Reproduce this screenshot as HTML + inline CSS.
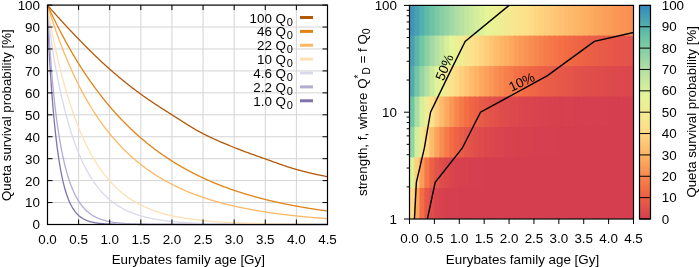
<!DOCTYPE html><html><head><meta charset="utf-8"><style>html,body{margin:0;padding:0;background:#fff;overflow:hidden}svg{display:block;will-change:transform}text{font-family:"Liberation Sans", sans-serif;font-size:13.4px;fill:#000}</style></head><body>
<svg width="699" height="267" viewBox="0 0 699 267">
<rect width="699" height="267" fill="#fff"/>
<path d="M78.61 5.10V224.50M109.72 5.10V224.50M140.83 5.10V224.50M171.94 5.10V224.50M203.06 5.10V224.50M234.17 5.10V224.50M265.28 5.10V224.50M296.39 5.10V224.50M47.50 202.56H327.50M47.50 180.62H327.50M47.50 158.68H327.50M47.50 136.74H327.50M47.50 114.80H327.50M47.50 92.86H327.50M47.50 70.92H327.50M47.50 48.98H327.50M47.50 27.04H327.50" stroke="#d4d4d4" stroke-width="1" fill="none"/>
<polyline points="47.50,5.10 47.66,11.04 47.81,16.47 47.97,21.46 48.12,26.08 48.28,30.38 48.43,34.41 48.59,38.20 48.74,41.79 48.90,45.21 49.06,48.47 49.21,51.60 49.37,54.61 49.52,57.52 49.68,60.34 49.83,63.07 49.99,65.72 50.14,68.31 50.30,70.83 50.46,73.29 50.61,75.70 50.77,78.06 50.92,80.37 51.08,82.63 51.23,84.86 51.39,87.04 51.54,89.18 51.70,91.29 51.86,93.35 52.01,95.39 52.17,97.39 52.32,99.35 52.48,101.29 52.63,103.19 52.79,105.06 52.94,106.91 53.10,108.72 53.26,110.50 53.41,112.26 53.57,113.99 53.72,115.69 53.88,117.37 54.03,119.02 54.19,120.64 54.34,122.24 54.50,123.81 54.66,125.36 54.81,126.89 54.97,128.39 55.12,129.87 55.28,131.32 55.43,132.76 55.59,134.17 55.74,135.56 55.90,136.93 56.06,138.27 56.21,139.60 56.37,140.91 56.52,142.19 56.68,143.46 56.83,144.70 56.99,145.93 57.14,147.14 57.30,148.33 57.46,149.50 57.61,150.65 57.77,151.79 57.92,152.91 58.08,154.01 58.23,155.09 58.39,156.16 58.54,157.21 58.70,158.25 58.86,159.27 59.01,160.27 59.17,161.26 59.32,162.23 59.48,163.19 59.63,164.13 59.79,165.06 59.94,165.97 60.26,167.76 60.57,169.49 60.88,171.17 61.19,172.80 61.50,174.38 61.81,175.91 62.12,177.39 62.43,178.83 62.74,180.22 63.06,181.57 63.37,182.88 63.68,184.15 63.99,185.39 64.30,186.58 64.61,187.74 64.92,188.86 65.23,189.95 65.54,191.00 65.86,192.03 66.17,193.02 66.48,193.98 66.79,194.91 67.10,195.81 67.41,196.69 67.72,197.54 68.03,198.36 68.34,199.16 68.66,199.93 68.97,200.68 69.28,201.41 69.59,202.11 69.90,202.80 70.21,203.46 70.52,204.10 70.83,204.72 71.14,205.33 71.46,205.91 71.77,206.48 72.08,207.03 72.39,207.56 72.70,208.08 73.01,208.58 73.32,209.07 73.63,209.54 73.94,210.00 74.26,210.44 74.57,210.87 74.88,211.28 75.19,211.69 75.50,212.08 75.81,212.46 76.12,212.82 76.43,213.18 76.74,213.53 77.06,213.86 77.37,214.19 77.68,214.50 77.99,214.81 78.30,215.10 78.61,215.39 78.92,215.67 79.23,215.94 79.54,216.20 79.86,216.45 80.17,216.70 80.48,216.94 80.79,217.17 81.10,217.39 81.41,217.61 81.72,217.82 82.03,218.02 82.34,218.22 82.66,218.41 82.97,218.60 83.28,218.78 83.59,218.95 83.90,219.12 84.21,219.29 84.52,219.44 84.83,219.60 85.14,219.75 85.46,219.89 85.77,220.03 86.08,220.17 86.39,220.30 86.70,220.43 87.01,220.55 87.32,220.68 87.63,220.79 87.94,220.91 88.26,221.01 88.57,221.12 88.88,221.22 89.19,221.32 89.50,221.42 89.81,221.52 90.12,221.61 90.43,221.69 90.74,221.78 91.06,221.86 91.37,221.94 91.68,222.02 91.99,222.10 92.30,222.17 92.61,222.24 92.92,222.31 93.23,222.38 93.54,222.44 93.86,222.51 94.17,222.57 94.48,222.63 94.79,222.68 95.10,222.74 95.41,222.79 95.72,222.84 96.03,222.89 96.34,222.94 96.66,222.99 96.97,223.04 97.28,223.08 97.59,223.12 97.90,223.17 98.21,223.21 98.52,223.25 98.83,223.29 99.14,223.32 99.46,223.36 99.77,223.39 100.08,223.43 100.39,223.46 100.70,223.49 101.01,223.52 101.32,223.55 101.63,223.58 101.94,223.61 102.26,223.64 102.57,223.66 102.88,223.69 103.19,223.71 103.50,223.74 103.81,223.76 104.12,223.78 104.43,223.80 104.74,223.83 105.06,223.85 105.37,223.87 105.68,223.89 105.99,223.90 106.30,223.92 106.61,223.94 106.92,223.96 107.23,223.97 107.54,223.99 107.86,224.01 108.17,224.02 108.48,224.04 108.79,224.05 109.10,224.06 109.41,224.08 109.72,224.09 110.34,224.11 110.97,224.14 111.59,224.16 112.21,224.18 112.83,224.20 113.46,224.22 114.08,224.23 114.70,224.25 115.32,224.27 115.94,224.28 116.57,224.29 117.19,224.30 117.81,224.32 118.43,224.33 119.06,224.34 119.68,224.35 120.30,224.36 120.92,224.37 121.54,224.37 122.17,224.38 122.79,224.39 123.41,224.40 124.03,224.40 124.66,224.41 125.28,224.41 125.90,224.42 126.52,224.42 127.14,224.43 127.77,224.43 128.39,224.44 129.01,224.44 129.63,224.44 130.26,224.45 130.88,224.45 131.50,224.45 132.12,224.46 132.74,224.46 133.37,224.46 133.99,224.46 134.61,224.47 135.23,224.47 135.86,224.47 136.48,224.47 137.10,224.47 137.72,224.47 138.34,224.48 138.97,224.48 139.59,224.48 140.21,224.48 140.83,224.48 141.46,224.48 142.08,224.48 142.70,224.48 143.32,224.49 143.94,224.49 144.57,224.49 145.19,224.49 145.81,224.49 146.43,224.49 147.06,224.49 147.68,224.49 148.30,224.49 148.92,224.49 149.54,224.49 150.17,224.49 150.79,224.49 151.41,224.49 152.03,224.49 152.66,224.49 153.28,224.49 153.90,224.49 154.52,224.50 155.14,224.50 155.77,224.50 156.39,224.50 157.01,224.50 157.63,224.50 158.26,224.50 158.88,224.50 159.50,224.50 160.12,224.50 160.74,224.50 161.37,224.50 161.99,224.50 162.61,224.50 163.23,224.50 163.86,224.50 164.48,224.50 165.10,224.50 165.72,224.50 166.34,224.50 166.97,224.50 167.59,224.50 168.21,224.50 168.83,224.50 169.46,224.50 170.08,224.50 170.70,224.50 171.32,224.50 171.94,224.50 172.57,224.50 173.19,224.50 173.81,224.50 174.43,224.50 175.06,224.50 175.68,224.50 176.30,224.50 176.92,224.50 177.54,224.50 178.17,224.50 178.79,224.50 179.41,224.50 180.03,224.50 180.66,224.50 181.28,224.50 181.90,224.50 182.52,224.50 183.14,224.50 183.77,224.50 184.39,224.50 185.01,224.50 185.63,224.50 186.26,224.50 186.88,224.50 187.50,224.50 188.12,224.50 188.74,224.50 189.37,224.50 189.99,224.50 190.61,224.50 191.23,224.50 191.86,224.50 192.48,224.50 193.10,224.50 193.72,224.50 194.34,224.50 194.97,224.50 195.59,224.50 196.21,224.50 196.83,224.50 197.46,224.50 198.08,224.50 198.70,224.50 199.32,224.50 199.94,224.50 200.57,224.50 201.19,224.50 201.81,224.50 202.43,224.50 203.06,224.50 203.68,224.50 204.30,224.50 204.92,224.50 205.54,224.50 206.17,224.50 206.79,224.50 207.41,224.50 208.03,224.50 208.66,224.50 209.28,224.50 209.90,224.50 210.52,224.50 211.14,224.50 211.77,224.50 212.39,224.50 213.01,224.50 213.63,224.50 214.26,224.50 214.88,224.50 215.50,224.50 216.12,224.50 216.74,224.50 217.37,224.50 217.99,224.50 218.61,224.50 219.23,224.50 219.86,224.50 220.48,224.50 221.10,224.50 221.72,224.50 222.34,224.50 222.97,224.50 223.59,224.50 224.21,224.50 224.83,224.50 225.46,224.50 226.08,224.50 226.70,224.50 227.32,224.50 227.94,224.50 228.57,224.50 229.19,224.50 229.81,224.50 230.43,224.50 231.06,224.50 231.68,224.50 232.30,224.50 232.92,224.50 233.54,224.50 234.17,224.50 234.79,224.50 235.41,224.50 236.03,224.50 236.66,224.50 237.28,224.50 237.90,224.50 238.52,224.50 239.14,224.50 239.77,224.50 240.39,224.50 241.01,224.50 241.63,224.50 242.26,224.50 242.88,224.50 243.50,224.50 244.12,224.50 244.74,224.50 245.37,224.50 245.99,224.50 246.61,224.50 247.23,224.50 247.86,224.50 248.48,224.50 249.10,224.50 249.72,224.50 250.34,224.50 250.97,224.50 251.59,224.50 252.21,224.50 252.83,224.50 253.46,224.50 254.08,224.50 254.70,224.50 255.32,224.50 255.94,224.50 256.57,224.50 257.19,224.50 257.81,224.50 258.43,224.50 259.06,224.50 259.68,224.50 260.30,224.50 260.92,224.50 261.54,224.50 262.17,224.50 262.79,224.50 263.41,224.50 264.03,224.50 264.66,224.50 265.28,224.50 265.90,224.50 266.52,224.50 267.14,224.50 267.77,224.50 268.39,224.50 269.01,224.50 269.63,224.50 270.26,224.50 270.88,224.50 271.50,224.50 272.12,224.50 272.74,224.50 273.37,224.50 273.99,224.50 274.61,224.50 275.23,224.50 275.86,224.50 276.48,224.50 277.10,224.50 277.72,224.50 278.34,224.50 278.97,224.50 279.59,224.50 280.21,224.50 280.83,224.50 281.46,224.50 282.08,224.50 282.70,224.50 283.32,224.50 283.94,224.50 284.57,224.50 285.19,224.50 285.81,224.50 286.43,224.50 287.06,224.50 287.68,224.50 288.30,224.50 288.92,224.50 289.54,224.50 290.17,224.50 290.79,224.50 291.41,224.50 292.03,224.50 292.66,224.50 293.28,224.50 293.90,224.50 294.52,224.50 295.14,224.50 295.77,224.50 296.39,224.50 297.01,224.50 297.63,224.50 298.26,224.50 298.88,224.50 299.50,224.50 300.12,224.50 300.74,224.50 301.37,224.50 301.99,224.50 302.61,224.50 303.23,224.50 303.86,224.50 304.48,224.50 305.10,224.50 305.72,224.50 306.34,224.50 306.97,224.50 307.59,224.50 308.21,224.50 308.83,224.50 309.46,224.50 310.08,224.50 310.70,224.50 311.32,224.50 311.94,224.50 312.57,224.50 313.19,224.50 313.81,224.50 314.43,224.50 315.06,224.50 315.68,224.50 316.30,224.50 316.92,224.50 317.54,224.50 318.17,224.50 318.79,224.50 319.41,224.50 320.03,224.50 320.66,224.50 321.28,224.50 321.90,224.50 322.52,224.50 323.14,224.50 323.77,224.50 324.39,224.50 325.01,224.50 325.63,224.50 326.26,224.50 326.88,224.50 327.50,224.50" fill="none" stroke="#8073AC" stroke-width="1.3" stroke-linejoin="round"/>
<polyline points="47.50,5.10 47.66,8.39 47.81,11.59 47.97,14.72 48.12,17.78 48.28,20.76 48.43,23.68 48.59,26.52 48.74,29.31 48.90,32.03 49.06,34.69 49.21,37.29 49.37,39.84 49.52,42.34 49.68,44.78 49.83,47.17 49.99,49.51 50.14,51.81 50.30,54.06 50.46,56.26 50.61,58.43 50.77,60.55 50.92,62.63 51.08,64.67 51.23,66.68 51.39,68.65 51.54,70.58 51.70,72.48 51.86,74.35 52.01,76.18 52.17,77.98 52.32,79.76 52.48,81.50 52.63,83.21 52.79,84.90 52.94,86.56 53.10,88.19 53.26,89.79 53.41,91.38 53.57,92.93 53.72,94.46 53.88,95.97 54.03,97.46 54.19,98.92 54.34,100.37 54.50,101.79 54.66,103.19 54.81,104.57 54.97,105.93 55.12,107.27 55.28,108.59 55.43,109.90 55.59,111.19 55.74,112.46 55.90,113.71 56.06,114.94 56.21,116.16 56.37,117.36 56.52,118.55 56.68,119.72 56.83,120.88 56.99,122.02 57.14,123.15 57.30,124.26 57.46,125.36 57.61,126.44 57.77,127.51 57.92,128.57 58.08,129.61 58.23,130.64 58.39,131.66 58.54,132.67 58.70,133.66 58.86,134.64 59.01,135.61 59.17,136.57 59.32,137.52 59.48,138.46 59.63,139.38 59.79,140.30 59.94,141.20 60.26,142.97 60.57,144.71 60.88,146.40 61.19,148.06 61.50,149.68 61.81,151.26 62.12,152.81 62.43,154.32 62.74,155.80 63.06,157.25 63.37,158.66 63.68,160.05 63.99,161.40 64.30,162.72 64.61,164.02 64.92,165.29 65.23,166.53 65.54,167.74 65.86,168.93 66.17,170.09 66.48,171.23 66.79,172.34 67.10,173.43 67.41,174.50 67.72,175.54 68.03,176.56 68.34,177.56 68.66,178.54 68.97,179.50 69.28,180.44 69.59,181.36 69.90,182.26 70.21,183.14 70.52,184.00 70.83,184.84 71.14,185.67 71.46,186.47 71.77,187.27 72.08,188.04 72.39,188.80 72.70,189.54 73.01,190.27 73.32,190.98 73.63,191.68 73.94,192.36 74.26,193.03 74.57,193.69 74.88,194.33 75.19,194.95 75.50,195.57 75.81,196.17 76.12,196.76 76.43,197.34 76.74,197.90 77.06,198.45 77.37,199.00 77.68,199.53 77.99,200.04 78.30,200.55 78.61,201.05 78.92,201.54 79.23,202.02 79.54,202.48 79.86,202.94 80.17,203.39 80.48,203.83 80.79,204.26 81.10,204.68 81.41,205.09 81.72,205.49 82.03,205.89 82.34,206.28 82.66,206.65 82.97,207.03 83.28,207.39 83.59,207.74 83.90,208.09 84.21,208.43 84.52,208.77 84.83,209.09 85.14,209.41 85.46,209.73 85.77,210.03 86.08,210.34 86.39,210.63 86.70,210.92 87.01,211.20 87.32,211.48 87.63,211.75 87.94,212.01 88.26,212.27 88.57,212.53 88.88,212.77 89.19,213.02 89.50,213.26 89.81,213.49 90.12,213.72 90.43,213.94 90.74,214.16 91.06,214.38 91.37,214.59 91.68,214.79 91.99,215.00 92.30,215.19 92.61,215.39 92.92,215.58 93.23,215.76 93.54,215.94 93.86,216.12 94.17,216.30 94.48,216.47 94.79,216.63 95.10,216.80 95.41,216.96 95.72,217.11 96.03,217.27 96.34,217.42 96.66,217.56 96.97,217.71 97.28,217.85 97.59,217.99 97.90,218.12 98.21,218.26 98.52,218.39 98.83,218.51 99.14,218.64 99.46,218.76 99.77,218.88 100.08,218.99 100.39,219.11 100.70,219.22 101.01,219.33 101.32,219.44 101.63,219.54 101.94,219.65 102.26,219.75 102.57,219.85 102.88,219.94 103.19,220.04 103.50,220.13 103.81,220.22 104.12,220.31 104.43,220.40 104.74,220.48 105.06,220.57 105.37,220.65 105.68,220.73 105.99,220.81 106.30,220.88 106.61,220.96 106.92,221.03 107.23,221.10 107.54,221.17 107.86,221.24 108.17,221.31 108.48,221.38 108.79,221.44 109.10,221.51 109.41,221.57 109.72,221.63 110.34,221.75 110.97,221.86 111.59,221.97 112.21,222.07 112.83,222.17 113.46,222.27 114.08,222.36 114.70,222.45 115.32,222.53 115.94,222.61 116.57,222.69 117.19,222.77 117.81,222.84 118.43,222.91 119.06,222.97 119.68,223.03 120.30,223.09 120.92,223.15 121.54,223.21 122.17,223.26 122.79,223.31 123.41,223.36 124.03,223.41 124.66,223.45 125.28,223.50 125.90,223.54 126.52,223.58 127.14,223.61 127.77,223.65 128.39,223.69 129.01,223.72 129.63,223.75 130.26,223.78 130.88,223.81 131.50,223.84 132.12,223.87 132.74,223.89 133.37,223.92 133.99,223.94 134.61,223.96 135.23,223.99 135.86,224.01 136.48,224.03 137.10,224.05 137.72,224.07 138.34,224.08 138.97,224.10 139.59,224.12 140.21,224.13 140.83,224.15 141.46,224.16 142.08,224.18 142.70,224.19 143.32,224.20 143.94,224.22 144.57,224.23 145.19,224.24 145.81,224.25 146.43,224.26 147.06,224.27 147.68,224.28 148.30,224.29 148.92,224.30 149.54,224.30 150.17,224.31 150.79,224.32 151.41,224.33 152.03,224.33 152.66,224.34 153.28,224.35 153.90,224.35 154.52,224.36 155.14,224.37 155.77,224.37 156.39,224.38 157.01,224.38 157.63,224.39 158.26,224.39 158.88,224.40 159.50,224.40 160.12,224.40 160.74,224.41 161.37,224.41 161.99,224.42 162.61,224.42 163.23,224.42 163.86,224.43 164.48,224.43 165.10,224.43 165.72,224.43 166.34,224.44 166.97,224.44 167.59,224.44 168.21,224.44 168.83,224.45 169.46,224.45 170.08,224.45 170.70,224.45 171.32,224.46 171.94,224.46 172.57,224.46 173.19,224.46 173.81,224.46 174.43,224.46 175.06,224.47 175.68,224.47 176.30,224.47 176.92,224.47 177.54,224.47 178.17,224.47 178.79,224.47 179.41,224.47 180.03,224.48 180.66,224.48 181.28,224.48 181.90,224.48 182.52,224.48 183.14,224.48 183.77,224.48 184.39,224.48 185.01,224.48 185.63,224.48 186.26,224.48 186.88,224.48 187.50,224.48 188.12,224.49 188.74,224.49 189.37,224.49 189.99,224.49 190.61,224.49 191.23,224.49 191.86,224.49 192.48,224.49 193.10,224.49 193.72,224.49 194.34,224.49 194.97,224.49 195.59,224.49 196.21,224.49 196.83,224.49 197.46,224.49 198.08,224.49 198.70,224.49 199.32,224.49 199.94,224.49 200.57,224.49 201.19,224.49 201.81,224.49 202.43,224.49 203.06,224.49 203.68,224.49 204.30,224.50 204.92,224.50 205.54,224.50 206.17,224.50 206.79,224.50 207.41,224.50 208.03,224.50 208.66,224.50 209.28,224.50 209.90,224.50 210.52,224.50 211.14,224.50 211.77,224.50 212.39,224.50 213.01,224.50 213.63,224.50 214.26,224.50 214.88,224.50 215.50,224.50 216.12,224.50 216.74,224.50 217.37,224.50 217.99,224.50 218.61,224.50 219.23,224.50 219.86,224.50 220.48,224.50 221.10,224.50 221.72,224.50 222.34,224.50 222.97,224.50 223.59,224.50 224.21,224.50 224.83,224.50 225.46,224.50 226.08,224.50 226.70,224.50 227.32,224.50 227.94,224.50 228.57,224.50 229.19,224.50 229.81,224.50 230.43,224.50 231.06,224.50 231.68,224.50 232.30,224.50 232.92,224.50 233.54,224.50 234.17,224.50 234.79,224.50 235.41,224.50 236.03,224.50 236.66,224.50 237.28,224.50 237.90,224.50 238.52,224.50 239.14,224.50 239.77,224.50 240.39,224.50 241.01,224.50 241.63,224.50 242.26,224.50 242.88,224.50 243.50,224.50 244.12,224.50 244.74,224.50 245.37,224.50 245.99,224.50 246.61,224.50 247.23,224.50 247.86,224.50 248.48,224.50 249.10,224.50 249.72,224.50 250.34,224.50 250.97,224.50 251.59,224.50 252.21,224.50 252.83,224.50 253.46,224.50 254.08,224.50 254.70,224.50 255.32,224.50 255.94,224.50 256.57,224.50 257.19,224.50 257.81,224.50 258.43,224.50 259.06,224.50 259.68,224.50 260.30,224.50 260.92,224.50 261.54,224.50 262.17,224.50 262.79,224.50 263.41,224.50 264.03,224.50 264.66,224.50 265.28,224.50 265.90,224.50 266.52,224.50 267.14,224.50 267.77,224.50 268.39,224.50 269.01,224.50 269.63,224.50 270.26,224.50 270.88,224.50 271.50,224.50 272.12,224.50 272.74,224.50 273.37,224.50 273.99,224.50 274.61,224.50 275.23,224.50 275.86,224.50 276.48,224.50 277.10,224.50 277.72,224.50 278.34,224.50 278.97,224.50 279.59,224.50 280.21,224.50 280.83,224.50 281.46,224.50 282.08,224.50 282.70,224.50 283.32,224.50 283.94,224.50 284.57,224.50 285.19,224.50 285.81,224.50 286.43,224.50 287.06,224.50 287.68,224.50 288.30,224.50 288.92,224.50 289.54,224.50 290.17,224.50 290.79,224.50 291.41,224.50 292.03,224.50 292.66,224.50 293.28,224.50 293.90,224.50 294.52,224.50 295.14,224.50 295.77,224.50 296.39,224.50 297.01,224.50 297.63,224.50 298.26,224.50 298.88,224.50 299.50,224.50 300.12,224.50 300.74,224.50 301.37,224.50 301.99,224.50 302.61,224.50 303.23,224.50 303.86,224.50 304.48,224.50 305.10,224.50 305.72,224.50 306.34,224.50 306.97,224.50 307.59,224.50 308.21,224.50 308.83,224.50 309.46,224.50 310.08,224.50 310.70,224.50 311.32,224.50 311.94,224.50 312.57,224.50 313.19,224.50 313.81,224.50 314.43,224.50 315.06,224.50 315.68,224.50 316.30,224.50 316.92,224.50 317.54,224.50 318.17,224.50 318.79,224.50 319.41,224.50 320.03,224.50 320.66,224.50 321.28,224.50 321.90,224.50 322.52,224.50 323.14,224.50 323.77,224.50 324.39,224.50 325.01,224.50 325.63,224.50 326.26,224.50 326.88,224.50 327.50,224.50" fill="none" stroke="#B2ABD2" stroke-width="1.3" stroke-linejoin="round"/>
<polyline points="47.50,5.10 47.66,6.97 47.81,8.79 47.97,10.56 48.12,12.28 48.28,13.96 48.43,15.60 48.59,17.20 48.74,18.76 48.90,20.28 49.06,21.78 49.21,23.24 49.37,24.67 49.52,26.07 49.68,27.44 49.83,28.79 49.99,30.11 50.14,31.41 50.30,32.68 50.46,33.94 50.61,35.17 50.77,36.38 50.92,37.58 51.08,38.76 51.23,39.92 51.39,41.06 51.54,42.18 51.70,43.30 51.86,44.39 52.01,45.48 52.17,46.55 52.32,47.60 52.48,48.65 52.63,49.68 52.79,50.70 52.94,51.71 53.10,52.71 53.26,53.70 53.41,54.68 53.57,55.65 53.72,56.61 53.88,57.56 54.03,58.50 54.19,59.43 54.34,60.36 54.50,61.27 54.66,62.18 54.81,63.08 54.97,63.98 55.12,64.86 55.28,65.74 55.43,66.62 55.59,67.48 55.74,68.34 55.90,69.20 56.06,70.04 56.21,70.88 56.37,71.72 56.52,72.55 56.68,73.37 56.83,74.19 56.99,75.00 57.14,75.81 57.30,76.61 57.46,77.41 57.61,78.20 57.77,78.99 57.92,79.77 58.08,80.54 58.23,81.31 58.39,82.08 58.54,82.84 58.70,83.60 58.86,84.35 59.01,85.10 59.17,85.85 59.32,86.58 59.48,87.32 59.63,88.05 59.79,88.78 59.94,89.50 60.26,90.93 60.57,92.35 60.88,93.75 61.19,95.13 61.50,96.50 61.81,97.85 62.12,99.19 62.43,100.51 62.74,101.82 63.06,103.12 63.37,104.40 63.68,105.66 63.99,106.92 64.30,108.16 64.61,109.38 64.92,110.60 65.23,111.80 65.54,112.98 65.86,114.16 66.17,115.32 66.48,116.47 66.79,117.61 67.10,118.73 67.41,119.85 67.72,120.95 68.03,122.04 68.34,123.12 68.66,124.18 68.97,125.24 69.28,126.28 69.59,127.32 69.90,128.34 70.21,129.35 70.52,130.35 70.83,131.34 71.14,132.32 71.46,133.29 71.77,134.25 72.08,135.20 72.39,136.14 72.70,137.07 73.01,137.99 73.32,138.90 73.63,139.80 73.94,140.70 74.26,141.58 74.57,142.45 74.88,143.31 75.19,144.17 75.50,145.01 75.81,145.85 76.12,146.68 76.43,147.49 76.74,148.31 77.06,149.11 77.37,149.90 77.68,150.68 77.99,151.46 78.30,152.23 78.61,152.99 78.92,153.74 79.23,154.49 79.54,155.22 79.86,155.95 80.17,156.67 80.48,157.39 80.79,158.09 81.10,158.79 81.41,159.48 81.72,160.17 82.03,160.84 82.34,161.51 82.66,162.18 82.97,162.83 83.28,163.48 83.59,164.12 83.90,164.76 84.21,165.39 84.52,166.01 84.83,166.62 85.14,167.23 85.46,167.84 85.77,168.43 86.08,169.02 86.39,169.61 86.70,170.18 87.01,170.75 87.32,171.32 87.63,171.88 87.94,172.43 88.26,172.98 88.57,173.52 88.88,174.06 89.19,174.59 89.50,175.12 89.81,175.64 90.12,176.15 90.43,176.66 90.74,177.16 91.06,177.66 91.37,178.15 91.68,178.64 91.99,179.12 92.30,179.60 92.61,180.07 92.92,180.54 93.23,181.00 93.54,181.46 93.86,181.91 94.17,182.36 94.48,182.80 94.79,183.24 95.10,183.68 95.41,184.11 95.72,184.53 96.03,184.95 96.34,185.37 96.66,185.78 96.97,186.19 97.28,186.59 97.59,186.99 97.90,187.38 98.21,187.77 98.52,188.16 98.83,188.54 99.14,188.92 99.46,189.30 99.77,189.67 100.08,190.03 100.39,190.40 100.70,190.75 101.01,191.11 101.32,191.46 101.63,191.81 101.94,192.15 102.26,192.49 102.57,192.83 102.88,193.16 103.19,193.49 103.50,193.82 103.81,194.14 104.12,194.46 104.43,194.78 104.74,195.09 105.06,195.40 105.37,195.70 105.68,196.01 105.99,196.31 106.30,196.60 106.61,196.90 106.92,197.19 107.23,197.48 107.54,197.76 107.86,198.04 108.17,198.32 108.48,198.59 108.79,198.87 109.10,199.14 109.41,199.40 109.72,199.67 110.34,200.19 110.97,200.70 111.59,201.19 112.21,201.68 112.83,202.16 113.46,202.63 114.08,203.09 114.70,203.53 115.32,203.97 115.94,204.40 116.57,204.82 117.19,205.24 117.81,205.64 118.43,206.03 119.06,206.42 119.68,206.80 120.30,207.17 120.92,207.53 121.54,207.89 122.17,208.23 122.79,208.57 123.41,208.91 124.03,209.23 124.66,209.55 125.28,209.87 125.90,210.17 126.52,210.47 127.14,210.77 127.77,211.05 128.39,211.34 129.01,211.61 129.63,211.88 130.26,212.15 130.88,212.40 131.50,212.66 132.12,212.90 132.74,213.15 133.37,213.39 133.99,213.62 134.61,213.85 135.23,214.07 135.86,214.29 136.48,214.50 137.10,214.71 137.72,214.91 138.34,215.12 138.97,215.31 139.59,215.50 140.21,215.69 140.83,215.88 141.46,216.06 142.08,216.23 142.70,216.41 143.32,216.58 143.94,216.74 144.57,216.90 145.19,217.06 145.81,217.22 146.43,217.37 147.06,217.52 147.68,217.67 148.30,217.81 148.92,217.95 149.54,218.09 150.17,218.22 150.79,218.35 151.41,218.48 152.03,218.61 152.66,218.73 153.28,218.85 153.90,218.97 154.52,219.09 155.14,219.20 155.77,219.31 156.39,219.42 157.01,219.52 157.63,219.63 158.26,219.73 158.88,219.83 159.50,219.93 160.12,220.02 160.74,220.12 161.37,220.21 161.99,220.30 162.61,220.39 163.23,220.47 163.86,220.56 164.48,220.64 165.10,220.72 165.72,220.80 166.34,220.88 166.97,220.95 167.59,221.03 168.21,221.10 168.83,221.17 169.46,221.24 170.08,221.31 170.70,221.38 171.32,221.44 171.94,221.51 172.57,221.57 173.19,221.63 173.81,221.69 174.43,221.75 175.06,221.81 175.68,221.86 176.30,221.92 176.92,221.97 177.54,222.02 178.17,222.08 178.79,222.13 179.41,222.18 180.03,222.23 180.66,222.27 181.28,222.32 181.90,222.37 182.52,222.41 183.14,222.45 183.77,222.50 184.39,222.54 185.01,222.58 185.63,222.62 186.26,222.66 186.88,222.70 187.50,222.74 188.12,222.77 188.74,222.81 189.37,222.84 189.99,222.88 190.61,222.91 191.23,222.95 191.86,222.98 192.48,223.01 193.10,223.04 193.72,223.07 194.34,223.10 194.97,223.13 195.59,223.16 196.21,223.19 196.83,223.22 197.46,223.24 198.08,223.27 198.70,223.29 199.32,223.32 199.94,223.34 200.57,223.37 201.19,223.39 201.81,223.42 202.43,223.44 203.06,223.46 203.68,223.48 204.30,223.50 204.92,223.52 205.54,223.54 206.17,223.56 206.79,223.58 207.41,223.60 208.03,223.62 208.66,223.64 209.28,223.66 209.90,223.68 210.52,223.69 211.14,223.71 211.77,223.73 212.39,223.74 213.01,223.76 213.63,223.77 214.26,223.79 214.88,223.80 215.50,223.82 216.12,223.83 216.74,223.85 217.37,223.86 217.99,223.87 218.61,223.89 219.23,223.90 219.86,223.91 220.48,223.92 221.10,223.94 221.72,223.95 222.34,223.96 222.97,223.97 223.59,223.98 224.21,223.99 224.83,224.00 225.46,224.01 226.08,224.02 226.70,224.03 227.32,224.04 227.94,224.05 228.57,224.06 229.19,224.07 229.81,224.08 230.43,224.09 231.06,224.10 231.68,224.11 232.30,224.12 232.92,224.12 233.54,224.13 234.17,224.14 234.79,224.15 235.41,224.15 236.03,224.16 236.66,224.17 237.28,224.18 237.90,224.18 238.52,224.19 239.14,224.20 239.77,224.20 240.39,224.21 241.01,224.21 241.63,224.22 242.26,224.23 242.88,224.23 243.50,224.24 244.12,224.24 244.74,224.25 245.37,224.25 245.99,224.26 246.61,224.26 247.23,224.27 247.86,224.27 248.48,224.28 249.10,224.28 249.72,224.29 250.34,224.29 250.97,224.30 251.59,224.30 252.21,224.30 252.83,224.31 253.46,224.31 254.08,224.32 254.70,224.32 255.32,224.32 255.94,224.33 256.57,224.33 257.19,224.33 257.81,224.34 258.43,224.34 259.06,224.35 259.68,224.35 260.30,224.35 260.92,224.35 261.54,224.36 262.17,224.36 262.79,224.36 263.41,224.37 264.03,224.37 264.66,224.37 265.28,224.37 265.90,224.38 266.52,224.38 267.14,224.38 267.77,224.38 268.39,224.39 269.01,224.39 269.63,224.39 270.26,224.39 270.88,224.40 271.50,224.40 272.12,224.40 272.74,224.40 273.37,224.40 273.99,224.41 274.61,224.41 275.23,224.41 275.86,224.41 276.48,224.41 277.10,224.42 277.72,224.42 278.34,224.42 278.97,224.42 279.59,224.42 280.21,224.42 280.83,224.43 281.46,224.43 282.08,224.43 282.70,224.43 283.32,224.43 283.94,224.43 284.57,224.43 285.19,224.44 285.81,224.44 286.43,224.44 287.06,224.44 287.68,224.44 288.30,224.44 288.92,224.44 289.54,224.45 290.17,224.45 290.79,224.45 291.41,224.45 292.03,224.45 292.66,224.45 293.28,224.45 293.90,224.45 294.52,224.45 295.14,224.45 295.77,224.46 296.39,224.46 297.01,224.46 297.63,224.46 298.26,224.46 298.88,224.46 299.50,224.46 300.12,224.46 300.74,224.46 301.37,224.46 301.99,224.46 302.61,224.46 303.23,224.47 303.86,224.47 304.48,224.47 305.10,224.47 305.72,224.47 306.34,224.47 306.97,224.47 307.59,224.47 308.21,224.47 308.83,224.47 309.46,224.47 310.08,224.47 310.70,224.47 311.32,224.47 311.94,224.47 312.57,224.47 313.19,224.48 313.81,224.48 314.43,224.48 315.06,224.48 315.68,224.48 316.30,224.48 316.92,224.48 317.54,224.48 318.17,224.48 318.79,224.48 319.41,224.48 320.03,224.48 320.66,224.48 321.28,224.48 321.90,224.48 322.52,224.48 323.14,224.48 323.77,224.48 324.39,224.48 325.01,224.48 325.63,224.48 326.26,224.48 326.88,224.48 327.50,224.48" fill="none" stroke="#D8DAEB" stroke-width="1.3" stroke-linejoin="round"/>
<polyline points="47.50,5.10 47.66,7.31 47.81,8.99 47.97,10.34 48.12,11.49 48.28,12.53 48.43,13.48 48.59,14.39 48.74,15.27 48.90,16.14 49.06,16.98 49.21,17.82 49.37,18.65 49.52,19.48 49.68,20.30 49.83,21.12 49.99,21.93 50.14,22.75 50.30,23.55 50.46,24.36 50.61,25.16 50.77,25.95 50.92,26.75 51.08,27.54 51.23,28.33 51.39,29.11 51.54,29.89 51.70,30.67 51.86,31.45 52.01,32.22 52.17,32.99 52.32,33.75 52.48,34.52 52.63,35.28 52.79,36.03 52.94,36.79 53.10,37.54 53.26,38.28 53.41,39.03 53.57,39.77 53.72,40.51 53.88,41.25 54.03,41.98 54.19,42.71 54.34,43.44 54.50,44.16 54.66,44.88 54.81,45.60 54.97,46.31 55.12,47.03 55.28,47.74 55.43,48.44 55.59,49.15 55.74,49.85 55.90,50.55 56.06,51.24 56.21,51.94 56.37,52.63 56.52,53.31 56.68,54.00 56.83,54.68 56.99,55.36 57.14,56.04 57.30,56.71 57.46,57.38 57.61,58.05 57.77,58.71 57.92,59.38 58.08,60.04 58.23,60.70 58.39,61.35 58.54,62.00 58.70,62.65 58.86,63.30 59.01,63.94 59.17,64.59 59.32,65.23 59.48,65.86 59.63,66.50 59.79,67.13 59.94,67.76 60.26,69.01 60.57,70.25 60.88,71.48 61.19,72.70 61.50,73.92 61.81,75.12 62.12,76.31 62.43,77.49 62.74,78.67 63.06,79.83 63.37,80.99 63.68,82.13 63.99,83.27 64.30,84.40 64.61,85.51 64.92,86.62 65.23,87.72 65.54,88.82 65.86,89.90 66.17,90.97 66.48,92.04 66.79,93.10 67.10,94.15 67.41,95.19 67.72,96.22 68.03,97.24 68.34,98.26 68.66,99.27 68.97,100.27 69.28,101.26 69.59,102.24 69.90,103.22 70.21,104.18 70.52,105.15 70.83,106.10 71.14,107.04 71.46,107.98 71.77,108.91 72.08,109.83 72.39,110.75 72.70,111.66 73.01,112.56 73.32,113.45 73.63,114.34 73.94,115.22 74.26,116.09 74.57,116.95 74.88,117.81 75.19,118.66 75.50,119.51 75.81,120.35 76.12,121.18 76.43,122.00 76.74,122.82 77.06,123.63 77.37,124.44 77.68,125.24 77.99,126.03 78.30,126.82 78.61,127.60 78.92,128.37 79.23,129.14 79.54,129.90 79.86,130.65 80.17,131.40 80.48,132.15 80.79,132.88 81.10,133.61 81.41,134.34 81.72,135.06 82.03,135.77 82.34,136.48 82.66,137.18 82.97,137.88 83.28,138.57 83.59,139.26 83.90,139.94 84.21,140.61 84.52,141.28 84.83,141.95 85.14,142.61 85.46,143.26 85.77,143.91 86.08,144.55 86.39,145.19 86.70,145.82 87.01,146.45 87.32,147.07 87.63,147.69 87.94,148.31 88.26,148.91 88.57,149.52 88.88,150.12 89.19,150.71 89.50,151.30 89.81,151.88 90.12,152.46 90.43,153.04 90.74,153.61 91.06,154.17 91.37,154.74 91.68,155.29 91.99,155.84 92.30,156.39 92.61,156.94 92.92,157.48 93.23,158.01 93.54,158.54 93.86,159.07 94.17,159.59 94.48,160.11 94.79,160.62 95.10,161.13 95.41,161.64 95.72,162.14 96.03,162.64 96.34,163.13 96.66,163.62 96.97,164.11 97.28,164.59 97.59,165.07 97.90,165.54 98.21,166.01 98.52,166.48 98.83,166.94 99.14,167.40 99.46,167.86 99.77,168.31 100.08,168.76 100.39,169.20 100.70,169.64 101.01,170.08 101.32,170.52 101.63,170.95 101.94,171.38 102.26,171.80 102.57,172.22 102.88,172.64 103.19,173.05 103.50,173.46 103.81,173.87 104.12,174.27 104.43,174.67 104.74,175.07 105.06,175.47 105.37,175.86 105.68,176.25 105.99,176.63 106.30,177.01 106.61,177.39 106.92,177.77 107.23,178.14 107.54,178.51 107.86,178.88 108.17,179.24 108.48,179.60 108.79,179.96 109.10,180.32 109.41,180.67 109.72,181.02 110.34,181.71 110.97,182.39 111.59,183.06 112.21,183.72 112.83,184.37 113.46,185.01 114.08,185.64 114.70,186.25 115.32,186.86 115.94,187.46 116.57,188.05 117.19,188.63 117.81,189.20 118.43,189.76 119.06,190.31 119.68,190.86 120.30,191.39 120.92,191.92 121.54,192.44 122.17,192.95 122.79,193.45 123.41,193.94 124.03,194.43 124.66,194.91 125.28,195.38 125.90,195.84 126.52,196.30 127.14,196.74 127.77,197.19 128.39,197.62 129.01,198.05 129.63,198.47 130.26,198.88 130.88,199.29 131.50,199.69 132.12,200.08 132.74,200.47 133.37,200.85 133.99,201.23 134.61,201.60 135.23,201.96 135.86,202.32 136.48,202.68 137.10,203.02 137.72,203.36 138.34,203.70 138.97,204.03 139.59,204.36 140.21,204.68 140.83,204.99 141.46,205.30 142.08,205.61 142.70,205.91 143.32,206.20 143.94,206.49 144.57,206.78 145.19,207.06 145.81,207.34 146.43,207.61 147.06,207.88 147.68,208.15 148.30,208.41 148.92,208.66 149.54,208.91 150.17,209.16 150.79,209.41 151.41,209.65 152.03,209.88 152.66,210.11 153.28,210.34 153.90,210.57 154.52,210.79 155.14,211.01 155.77,211.22 156.39,211.43 157.01,211.64 157.63,211.85 158.26,212.05 158.88,212.24 159.50,212.44 160.12,212.63 160.74,212.82 161.37,213.01 161.99,213.19 162.61,213.37 163.23,213.55 163.86,213.72 164.48,213.89 165.10,214.06 165.72,214.23 166.34,214.39 166.97,214.55 167.59,214.71 168.21,214.86 168.83,215.02 169.46,215.17 170.08,215.32 170.70,215.46 171.32,215.61 171.94,215.75 172.57,215.89 173.19,216.02 173.81,216.16 174.43,216.29 175.06,216.42 175.68,216.55 176.30,216.68 176.92,216.80 177.54,216.92 178.17,217.04 178.79,217.16 179.41,217.28 180.03,217.39 180.66,217.51 181.28,217.62 181.90,217.73 182.52,217.83 183.14,217.94 183.77,218.05 184.39,218.15 185.01,218.25 185.63,218.35 186.26,218.45 186.88,218.54 187.50,218.64 188.12,218.73 188.74,218.82 189.37,218.91 189.99,219.00 190.61,219.09 191.23,219.17 191.86,219.26 192.48,219.34 193.10,219.42 193.72,219.51 194.34,219.58 194.97,219.66 195.59,219.74 196.21,219.82 196.83,219.89 197.46,219.96 198.08,220.04 198.70,220.11 199.32,220.18 199.94,220.25 200.57,220.31 201.19,220.38 201.81,220.44 202.43,220.51 203.06,220.57 203.68,220.64 204.30,220.70 204.92,220.76 205.54,220.82 206.17,220.88 206.79,220.93 207.41,220.99 208.03,221.05 208.66,221.10 209.28,221.15 209.90,221.21 210.52,221.26 211.14,221.31 211.77,221.36 212.39,221.41 213.01,221.46 213.63,221.51 214.26,221.56 214.88,221.60 215.50,221.65 216.12,221.70 216.74,221.74 217.37,221.78 217.99,221.83 218.61,221.87 219.23,221.91 219.86,221.95 220.48,221.99 221.10,222.03 221.72,222.07 222.34,222.11 222.97,222.15 223.59,222.19 224.21,222.22 224.83,222.26 225.46,222.29 226.08,222.33 226.70,222.36 227.32,222.40 227.94,222.43 228.57,222.46 229.19,222.50 229.81,222.53 230.43,222.56 231.06,222.59 231.68,222.62 232.30,222.65 232.92,222.68 233.54,222.71 234.17,222.74 234.79,222.77 235.41,222.79 236.03,222.82 236.66,222.85 237.28,222.87 237.90,222.90 238.52,222.92 239.14,222.95 239.77,222.97 240.39,223.00 241.01,223.02 241.63,223.05 242.26,223.07 242.88,223.09 243.50,223.11 244.12,223.14 244.74,223.16 245.37,223.18 245.99,223.20 246.61,223.22 247.23,223.24 247.86,223.26 248.48,223.28 249.10,223.30 249.72,223.32 250.34,223.34 250.97,223.36 251.59,223.38 252.21,223.39 252.83,223.41 253.46,223.43 254.08,223.44 254.70,223.46 255.32,223.48 255.94,223.49 256.57,223.51 257.19,223.53 257.81,223.54 258.43,223.56 259.06,223.57 259.68,223.59 260.30,223.60 260.92,223.62 261.54,223.63 262.17,223.64 262.79,223.66 263.41,223.67 264.03,223.68 264.66,223.70 265.28,223.71 265.90,223.72 266.52,223.73 267.14,223.75 267.77,223.76 268.39,223.77 269.01,223.78 269.63,223.79 270.26,223.80 270.88,223.82 271.50,223.83 272.12,223.84 272.74,223.85 273.37,223.86 273.99,223.87 274.61,223.88 275.23,223.89 275.86,223.90 276.48,223.91 277.10,223.92 277.72,223.93 278.34,223.94 278.97,223.94 279.59,223.95 280.21,223.96 280.83,223.97 281.46,223.98 282.08,223.99 282.70,224.00 283.32,224.00 283.94,224.01 284.57,224.02 285.19,224.03 285.81,224.03 286.43,224.04 287.06,224.05 287.68,224.06 288.30,224.06 288.92,224.07 289.54,224.08 290.17,224.08 290.79,224.09 291.41,224.10 292.03,224.10 292.66,224.11 293.28,224.12 293.90,224.12 294.52,224.13 295.14,224.13 295.77,224.14 296.39,224.15 297.01,224.15 297.63,224.16 298.26,224.16 298.88,224.17 299.50,224.17 300.12,224.18 300.74,224.18 301.37,224.19 301.99,224.19 302.61,224.20 303.23,224.20 303.86,224.21 304.48,224.21 305.10,224.22 305.72,224.22 306.34,224.23 306.97,224.23 307.59,224.23 308.21,224.24 308.83,224.24 309.46,224.25 310.08,224.25 310.70,224.25 311.32,224.26 311.94,224.26 312.57,224.27 313.19,224.27 313.81,224.27 314.43,224.28 315.06,224.28 315.68,224.28 316.30,224.29 316.92,224.29 317.54,224.29 318.17,224.30 318.79,224.30 319.41,224.30 320.03,224.31 320.66,224.31 321.28,224.31 321.90,224.32 322.52,224.32 323.14,224.32 323.77,224.32 324.39,224.33 325.01,224.33 325.63,224.33 326.26,224.34 326.88,224.34 327.50,224.34" fill="none" stroke="#FEE0B6" stroke-width="1.3" stroke-linejoin="round"/>
<polyline points="47.50,5.10 47.66,5.61 47.81,6.12 47.97,6.63 48.12,7.13 48.28,7.64 48.43,8.14 48.59,8.64 48.74,9.14 48.90,9.64 49.06,10.14 49.21,10.64 49.37,11.13 49.52,11.63 49.68,12.12 49.83,12.61 49.99,13.10 50.14,13.59 50.30,14.08 50.46,14.56 50.61,15.05 50.77,15.53 50.92,16.02 51.08,16.50 51.23,16.98 51.39,17.46 51.54,17.93 51.70,18.41 51.86,18.89 52.01,19.36 52.17,19.83 52.32,20.30 52.48,20.77 52.63,21.24 52.79,21.71 52.94,22.18 53.10,22.64 53.26,23.11 53.41,23.57 53.57,24.03 53.72,24.49 53.88,24.95 54.03,25.41 54.19,25.87 54.34,26.32 54.50,26.78 54.66,27.23 54.81,27.68 54.97,28.14 55.12,28.59 55.28,29.03 55.43,29.48 55.59,29.93 55.74,30.37 55.90,30.82 56.06,31.26 56.21,31.70 56.37,32.14 56.52,32.58 56.68,33.02 56.83,33.46 56.99,33.90 57.14,34.33 57.30,34.76 57.46,35.20 57.61,35.63 57.77,36.06 57.92,36.49 58.08,36.92 58.23,37.34 58.39,37.77 58.54,38.20 58.70,38.62 58.86,39.04 59.01,39.47 59.17,39.89 59.32,40.31 59.48,40.72 59.63,41.14 59.79,41.56 59.94,41.97 60.26,42.80 60.57,43.63 60.88,44.44 61.19,45.26 61.50,46.07 61.81,46.88 62.12,47.68 62.43,48.48 62.74,49.27 63.06,50.06 63.37,50.85 63.68,51.63 63.99,52.41 64.30,53.19 64.61,53.96 64.92,54.73 65.23,55.49 65.54,56.25 65.86,57.00 66.17,57.75 66.48,58.50 66.79,59.25 67.10,59.99 67.41,60.72 67.72,61.46 68.03,62.19 68.34,62.91 68.66,63.63 68.97,64.35 69.28,65.07 69.59,65.78 69.90,66.49 70.21,67.19 70.52,67.89 70.83,68.59 71.14,69.28 71.46,69.97 71.77,70.66 72.08,71.34 72.39,72.02 72.70,72.70 73.01,73.37 73.32,74.04 73.63,74.71 73.94,75.37 74.26,76.03 74.57,76.69 74.88,77.34 75.19,77.99 75.50,78.64 75.81,79.28 76.12,79.92 76.43,80.56 76.74,81.20 77.06,81.83 77.37,82.45 77.68,83.08 77.99,83.70 78.30,84.32 78.61,84.94 78.92,85.55 79.23,86.16 79.54,86.77 79.86,87.37 80.17,87.97 80.48,88.57 80.79,89.17 81.10,89.76 81.41,90.35 81.72,90.93 82.03,91.52 82.34,92.10 82.66,92.68 82.97,93.25 83.28,93.82 83.59,94.39 83.90,94.96 84.21,95.53 84.52,96.09 84.83,96.65 85.14,97.20 85.46,97.76 85.77,98.31 86.08,98.85 86.39,99.40 86.70,99.94 87.01,100.48 87.32,101.02 87.63,101.55 87.94,102.09 88.26,102.62 88.57,103.14 88.88,103.67 89.19,104.19 89.50,104.71 89.81,105.23 90.12,105.74 90.43,106.26 90.74,106.77 91.06,107.27 91.37,107.78 91.68,108.28 91.99,108.78 92.30,109.28 92.61,109.78 92.92,110.27 93.23,110.76 93.54,111.25 93.86,111.73 94.17,112.22 94.48,112.70 94.79,113.18 95.10,113.66 95.41,114.13 95.72,114.60 96.03,115.07 96.34,115.54 96.66,116.01 96.97,116.47 97.28,116.93 97.59,117.39 97.90,117.85 98.21,118.31 98.52,118.76 98.83,119.21 99.14,119.66 99.46,120.10 99.77,120.55 100.08,120.99 100.39,121.43 100.70,121.87 101.01,122.31 101.32,122.74 101.63,123.17 101.94,123.60 102.26,124.03 102.57,124.46 102.88,124.88 103.19,125.30 103.50,125.72 103.81,126.14 104.12,126.56 104.43,126.97 104.74,127.39 105.06,127.80 105.37,128.20 105.68,128.61 105.99,129.02 106.30,129.42 106.61,129.82 106.92,130.22 107.23,130.62 107.54,131.01 107.86,131.41 108.17,131.80 108.48,132.19 108.79,132.58 109.10,132.96 109.41,133.35 109.72,133.73 110.34,134.49 110.97,135.25 111.59,135.99 112.21,136.73 112.83,137.47 113.46,138.19 114.08,138.91 114.70,139.63 115.32,140.34 115.94,141.04 116.57,141.73 117.19,142.42 117.81,143.10 118.43,143.78 119.06,144.45 119.68,145.11 120.30,145.77 120.92,146.42 121.54,147.07 122.17,147.71 122.79,148.34 123.41,148.97 124.03,149.59 124.66,150.21 125.28,150.82 125.90,151.43 126.52,152.03 127.14,152.62 127.77,153.22 128.39,153.80 129.01,154.38 129.63,154.96 130.26,155.53 130.88,156.09 131.50,156.65 132.12,157.21 132.74,157.76 133.37,158.30 133.99,158.84 134.61,159.38 135.23,159.91 135.86,160.43 136.48,160.96 137.10,161.47 137.72,161.99 138.34,162.49 138.97,163.00 139.59,163.50 140.21,163.99 140.83,164.48 141.46,164.97 142.08,165.45 142.70,165.93 143.32,166.40 143.94,166.87 144.57,167.34 145.19,167.80 145.81,168.26 146.43,168.71 147.06,169.16 147.68,169.61 148.30,170.05 148.92,170.49 149.54,170.92 150.17,171.35 150.79,171.78 151.41,172.20 152.03,172.62 152.66,173.04 153.28,173.45 153.90,173.86 154.52,174.27 155.14,174.67 155.77,175.07 156.39,175.47 157.01,175.86 157.63,176.25 158.26,176.63 158.88,177.01 159.50,177.39 160.12,177.77 160.74,178.14 161.37,178.51 161.99,178.88 162.61,179.24 163.23,179.60 163.86,179.96 164.48,180.31 165.10,180.66 165.72,181.01 166.34,181.36 166.97,181.70 167.59,182.04 168.21,182.38 168.83,182.71 169.46,183.04 170.08,183.37 170.70,183.69 171.32,184.02 171.94,184.34 172.57,184.66 173.19,184.97 173.81,185.28 174.43,185.59 175.06,185.90 175.68,186.20 176.30,186.51 176.92,186.81 177.54,187.10 178.17,187.40 178.79,187.69 179.41,187.98 180.03,188.27 180.66,188.55 181.28,188.83 181.90,189.11 182.52,189.39 183.14,189.67 183.77,189.94 184.39,190.21 185.01,190.48 185.63,190.75 186.26,191.01 186.88,191.28 187.50,191.54 188.12,191.79 188.74,192.05 189.37,192.30 189.99,192.56 190.61,192.81 191.23,193.05 191.86,193.30 192.48,193.54 193.10,193.79 193.72,194.03 194.34,194.26 194.97,194.50 195.59,194.73 196.21,194.97 196.83,195.20 197.46,195.42 198.08,195.65 198.70,195.87 199.32,196.10 199.94,196.32 200.57,196.54 201.19,196.76 201.81,196.97 202.43,197.19 203.06,197.40 203.68,197.61 204.30,197.82 204.92,198.02 205.54,198.23 206.17,198.43 206.79,198.64 207.41,198.84 208.03,199.04 208.66,199.23 209.28,199.43 209.90,199.62 210.52,199.82 211.14,200.01 211.77,200.20 212.39,200.38 213.01,200.57 213.63,200.76 214.26,200.94 214.88,201.12 215.50,201.30 216.12,201.48 216.74,201.66 217.37,201.84 217.99,202.01 218.61,202.18 219.23,202.36 219.86,202.53 220.48,202.70 221.10,202.87 221.72,203.03 222.34,203.20 222.97,203.36 223.59,203.52 224.21,203.69 224.83,203.85 225.46,204.01 226.08,204.16 226.70,204.32 227.32,204.47 227.94,204.63 228.57,204.78 229.19,204.93 229.81,205.08 230.43,205.23 231.06,205.38 231.68,205.53 232.30,205.67 232.92,205.82 233.54,205.96 234.17,206.10 234.79,206.24 235.41,206.38 236.03,206.52 236.66,206.66 237.28,206.80 237.90,206.93 238.52,207.07 239.14,207.20 239.77,207.34 240.39,207.47 241.01,207.60 241.63,207.73 242.26,207.85 242.88,207.98 243.50,208.11 244.12,208.23 244.74,208.36 245.37,208.48 245.99,208.60 246.61,208.73 247.23,208.85 247.86,208.97 248.48,209.09 249.10,209.20 249.72,209.32 250.34,209.44 250.97,209.55 251.59,209.66 252.21,209.78 252.83,209.89 253.46,210.00 254.08,210.11 254.70,210.22 255.32,210.33 255.94,210.44 256.57,210.55 257.19,210.65 257.81,210.76 258.43,210.86 259.06,210.97 259.68,211.07 260.30,211.17 260.92,211.27 261.54,211.38 262.17,211.47 262.79,211.57 263.41,211.67 264.03,211.77 264.66,211.87 265.28,211.96 265.90,212.06 266.52,212.15 267.14,212.25 267.77,212.34 268.39,212.43 269.01,212.52 269.63,212.62 270.26,212.71 270.88,212.80 271.50,212.88 272.12,212.97 272.74,213.06 273.37,213.15 273.99,213.23 274.61,213.32 275.23,213.40 275.86,213.49 276.48,213.57 277.10,213.66 277.72,213.74 278.34,213.82 278.97,213.90 279.59,213.98 280.21,214.06 280.83,214.14 281.46,214.22 282.08,214.30 282.70,214.37 283.32,214.45 283.94,214.53 284.57,214.60 285.19,214.68 285.81,214.75 286.43,214.83 287.06,214.90 287.68,214.97 288.30,215.04 288.92,215.12 289.54,215.19 290.17,215.26 290.79,215.33 291.41,215.40 292.03,215.47 292.66,215.53 293.28,215.60 293.90,215.67 294.52,215.74 295.14,215.80 295.77,215.87 296.39,215.93 297.01,216.00 297.63,216.06 298.26,216.13 298.88,216.19 299.50,216.25 300.12,216.31 300.74,216.38 301.37,216.44 301.99,216.50 302.61,216.56 303.23,216.62 303.86,216.68 304.48,216.74 305.10,216.80 305.72,216.86 306.34,216.91 306.97,216.97 307.59,217.03 308.21,217.08 308.83,217.14 309.46,217.20 310.08,217.25 310.70,217.31 311.32,217.36 311.94,217.41 312.57,217.47 313.19,217.52 313.81,217.57 314.43,217.62 315.06,217.68 315.68,217.73 316.30,217.78 316.92,217.83 317.54,217.88 318.17,217.93 318.79,217.98 319.41,218.03 320.03,218.08 320.66,218.13 321.28,218.17 321.90,218.22 322.52,218.27 323.14,218.32 323.77,218.36 324.39,218.41 325.01,218.46 325.63,218.50 326.26,218.55 326.88,218.59 327.50,218.64" fill="none" stroke="#FDB863" stroke-width="1.3" stroke-linejoin="round"/>
<polyline points="47.50,5.10 47.66,5.44 47.81,5.78 47.97,6.12 48.12,6.46 48.28,6.79 48.43,7.13 48.59,7.47 48.74,7.80 48.90,8.14 49.06,8.47 49.21,8.81 49.37,9.14 49.52,9.48 49.68,9.81 49.83,10.14 49.99,10.47 50.14,10.81 50.30,11.14 50.46,11.47 50.61,11.80 50.77,12.13 50.92,12.46 51.08,12.78 51.23,13.11 51.39,13.44 51.54,13.77 51.70,14.09 51.86,14.42 52.01,14.74 52.17,15.07 52.32,15.39 52.48,15.72 52.63,16.04 52.79,16.36 52.94,16.69 53.10,17.01 53.26,17.33 53.41,17.65 53.57,17.97 53.72,18.29 53.88,18.61 54.03,18.93 54.19,19.25 54.34,19.56 54.50,19.88 54.66,20.20 54.81,20.51 54.97,20.83 55.12,21.15 55.28,21.46 55.43,21.78 55.59,22.09 55.74,22.40 55.90,22.72 56.06,23.03 56.21,23.34 56.37,23.65 56.52,23.96 56.68,24.27 56.83,24.58 56.99,24.89 57.14,25.20 57.30,25.51 57.46,25.82 57.61,26.13 57.77,26.43 57.92,26.74 58.08,27.05 58.23,27.35 58.39,27.66 58.54,27.96 58.70,28.27 58.86,28.57 59.01,28.88 59.17,29.18 59.32,29.48 59.48,29.78 59.63,30.08 59.79,30.39 59.94,30.69 60.26,31.29 60.57,31.88 60.88,32.48 61.19,33.07 61.50,33.67 61.81,34.26 62.12,34.85 62.43,35.43 62.74,36.02 63.06,36.60 63.37,37.18 63.68,37.76 63.99,38.34 64.30,38.92 64.61,39.49 64.92,40.07 65.23,40.64 65.54,41.21 65.86,41.77 66.17,42.34 66.48,42.90 66.79,43.46 67.10,44.02 67.41,44.58 67.72,45.14 68.03,45.69 68.34,46.25 68.66,46.80 68.97,47.35 69.28,47.90 69.59,48.44 69.90,48.99 70.21,49.53 70.52,50.07 70.83,50.61 71.14,51.15 71.46,51.69 71.77,52.22 72.08,52.76 72.39,53.29 72.70,53.82 73.01,54.35 73.32,54.87 73.63,55.40 73.94,55.92 74.26,56.44 74.57,56.96 74.88,57.48 75.19,58.00 75.50,58.52 75.81,59.03 76.12,59.54 76.43,60.05 76.74,60.56 77.06,61.07 77.37,61.57 77.68,62.08 77.99,62.58 78.30,63.08 78.61,63.58 78.92,64.08 79.23,64.58 79.54,65.07 79.86,65.56 80.17,66.06 80.48,66.55 80.79,67.04 81.10,67.52 81.41,68.01 81.72,68.49 82.03,68.98 82.34,69.46 82.66,69.94 82.97,70.42 83.28,70.89 83.59,71.37 83.90,71.84 84.21,72.32 84.52,72.79 84.83,73.26 85.14,73.72 85.46,74.19 85.77,74.66 86.08,75.12 86.39,75.58 86.70,76.04 87.01,76.50 87.32,76.96 87.63,77.42 87.94,77.87 88.26,78.33 88.57,78.78 88.88,79.23 89.19,79.68 89.50,80.13 89.81,80.57 90.12,81.02 90.43,81.46 90.74,81.91 91.06,82.35 91.37,82.79 91.68,83.23 91.99,83.66 92.30,84.10 92.61,84.53 92.92,84.97 93.23,85.40 93.54,85.83 93.86,86.26 94.17,86.69 94.48,87.11 94.79,87.54 95.10,87.96 95.41,88.39 95.72,88.81 96.03,89.23 96.34,89.65 96.66,90.06 96.97,90.48 97.28,90.89 97.59,91.31 97.90,91.72 98.21,92.13 98.52,92.54 98.83,92.95 99.14,93.36 99.46,93.76 99.77,94.17 100.08,94.57 100.39,94.97 100.70,95.37 101.01,95.77 101.32,96.17 101.63,96.57 101.94,96.96 102.26,97.36 102.57,97.75 102.88,98.14 103.19,98.54 103.50,98.93 103.81,99.31 104.12,99.70 104.43,100.09 104.74,100.47 105.06,100.86 105.37,101.24 105.68,101.62 105.99,102.00 106.30,102.38 106.61,102.76 106.92,103.14 107.23,103.51 107.54,103.89 107.86,104.26 108.17,104.63 108.48,105.00 108.79,105.37 109.10,105.74 109.41,106.11 109.72,106.47 110.34,107.20 110.97,107.93 111.59,108.65 112.21,109.37 112.83,110.08 113.46,110.78 114.08,111.49 114.70,112.19 115.32,112.88 115.94,113.57 116.57,114.26 117.19,114.94 117.81,115.61 118.43,116.29 119.06,116.96 119.68,117.62 120.30,118.28 120.92,118.94 121.54,119.59 122.17,120.24 122.79,120.88 123.41,121.52 124.03,122.16 124.66,122.79 125.28,123.42 125.90,124.05 126.52,124.67 127.14,125.28 127.77,125.90 128.39,126.51 129.01,127.11 129.63,127.71 130.26,128.31 130.88,128.91 131.50,129.50 132.12,130.09 132.74,130.67 133.37,131.25 133.99,131.83 134.61,132.40 135.23,132.97 135.86,133.53 136.48,134.10 137.10,134.65 137.72,135.21 138.34,135.76 138.97,136.31 139.59,136.85 140.21,137.40 140.83,137.93 141.46,138.47 142.08,139.00 142.70,139.53 143.32,140.06 143.94,140.58 144.57,141.10 145.19,141.61 145.81,142.12 146.43,142.63 147.06,143.14 147.68,143.64 148.30,144.14 148.92,144.64 149.54,145.13 150.17,145.62 150.79,146.11 151.41,146.59 152.03,147.08 152.66,147.55 153.28,148.03 153.90,148.50 154.52,148.97 155.14,149.44 155.77,149.90 156.39,150.36 157.01,150.82 157.63,151.28 158.26,151.73 158.88,152.18 159.50,152.63 160.12,153.07 160.74,153.51 161.37,153.95 161.99,154.39 162.61,154.82 163.23,155.25 163.86,155.68 164.48,156.11 165.10,156.53 165.72,156.95 166.34,157.37 166.97,157.78 167.59,158.19 168.21,158.60 168.83,159.01 169.46,159.41 170.08,159.82 170.70,160.22 171.32,160.61 171.94,161.01 172.57,161.40 173.19,161.79 173.81,162.18 174.43,162.56 175.06,162.95 175.68,163.33 176.30,163.71 176.92,164.08 177.54,164.45 178.17,164.83 178.79,165.19 179.41,165.56 180.03,165.93 180.66,166.29 181.28,166.65 181.90,167.01 182.52,167.36 183.14,167.71 183.77,168.06 184.39,168.41 185.01,168.76 185.63,169.10 186.26,169.45 186.88,169.79 187.50,170.13 188.12,170.46 188.74,170.80 189.37,171.13 189.99,171.46 190.61,171.79 191.23,172.11 191.86,172.43 192.48,172.76 193.10,173.08 193.72,173.39 194.34,173.71 194.97,174.02 195.59,174.34 196.21,174.65 196.83,174.95 197.46,175.26 198.08,175.56 198.70,175.87 199.32,176.17 199.94,176.47 200.57,176.76 201.19,177.06 201.81,177.35 202.43,177.64 203.06,177.93 203.68,178.22 204.30,178.51 204.92,178.79 205.54,179.07 206.17,179.35 206.79,179.63 207.41,179.91 208.03,180.19 208.66,180.46 209.28,180.73 209.90,181.00 210.52,181.27 211.14,181.54 211.77,181.80 212.39,182.07 213.01,182.33 213.63,182.59 214.26,182.85 214.88,183.11 215.50,183.36 216.12,183.62 216.74,183.87 217.37,184.12 217.99,184.37 218.61,184.62 219.23,184.87 219.86,185.11 220.48,185.35 221.10,185.60 221.72,185.84 222.34,186.08 222.97,186.31 223.59,186.55 224.21,186.78 224.83,187.02 225.46,187.25 226.08,187.48 226.70,187.71 227.32,187.93 227.94,188.16 228.57,188.39 229.19,188.61 229.81,188.83 230.43,189.05 231.06,189.27 231.68,189.49 232.30,189.70 232.92,189.92 233.54,190.13 234.17,190.35 234.79,190.56 235.41,190.77 236.03,190.97 236.66,191.18 237.28,191.39 237.90,191.59 238.52,191.80 239.14,192.00 239.77,192.20 240.39,192.40 241.01,192.60 241.63,192.79 242.26,192.99 242.88,193.19 243.50,193.38 244.12,193.57 244.74,193.76 245.37,193.95 245.99,194.14 246.61,194.33 247.23,194.52 247.86,194.70 248.48,194.88 249.10,195.07 249.72,195.25 250.34,195.43 250.97,195.61 251.59,195.79 252.21,195.97 252.83,196.14 253.46,196.32 254.08,196.49 254.70,196.66 255.32,196.84 255.94,197.01 256.57,197.18 257.19,197.35 257.81,197.51 258.43,197.68 259.06,197.85 259.68,198.01 260.30,198.18 260.92,198.34 261.54,198.50 262.17,198.66 262.79,198.82 263.41,198.98 264.03,199.14 264.66,199.29 265.28,199.45 265.90,199.60 266.52,199.76 267.14,199.91 267.77,200.06 268.39,200.21 269.01,200.36 269.63,200.51 270.26,200.66 270.88,200.81 271.50,200.96 272.12,201.10 272.74,201.25 273.37,201.39 273.99,201.53 274.61,201.67 275.23,201.82 275.86,201.96 276.48,202.09 277.10,202.23 277.72,202.37 278.34,202.51 278.97,202.64 279.59,202.78 280.21,202.91 280.83,203.05 281.46,203.18 282.08,203.31 282.70,203.44 283.32,203.57 283.94,203.70 284.57,203.83 285.19,203.96 285.81,204.08 286.43,204.21 287.06,204.34 287.68,204.46 288.30,204.58 288.92,204.71 289.54,204.83 290.17,204.95 290.79,205.07 291.41,205.19 292.03,205.31 292.66,205.43 293.28,205.55 293.90,205.67 294.52,205.78 295.14,205.90 295.77,206.01 296.39,206.13 297.01,206.24 297.63,206.35 298.26,206.47 298.88,206.58 299.50,206.69 300.12,206.80 300.74,206.91 301.37,207.02 301.99,207.12 302.61,207.23 303.23,207.34 303.86,207.44 304.48,207.55 305.10,207.65 305.72,207.76 306.34,207.86 306.97,207.96 307.59,208.07 308.21,208.17 308.83,208.27 309.46,208.37 310.08,208.47 310.70,208.57 311.32,208.67 311.94,208.76 312.57,208.86 313.19,208.96 313.81,209.05 314.43,209.15 315.06,209.25 315.68,209.34 316.30,209.43 316.92,209.53 317.54,209.62 318.17,209.71 318.79,209.80 319.41,209.89 320.03,209.98 320.66,210.07 321.28,210.16 321.90,210.25 322.52,210.34 323.14,210.43 323.77,210.51 324.39,210.60 325.01,210.69 325.63,210.77 326.26,210.86 326.88,210.94 327.50,211.02" fill="none" stroke="#E08214" stroke-width="1.3" stroke-linejoin="round"/>
<polyline points="47.50,5.10 47.66,5.28 47.81,5.46 47.97,5.64 48.12,5.82 48.28,6.00 48.43,6.18 48.59,6.36 48.74,6.54 48.90,6.72 49.06,6.89 49.21,7.07 49.37,7.25 49.52,7.43 49.68,7.61 49.83,7.79 49.99,7.97 50.14,8.14 50.30,8.32 50.46,8.50 50.61,8.68 50.77,8.86 50.92,9.04 51.08,9.21 51.23,9.39 51.39,9.57 51.54,9.75 51.70,9.92 51.86,10.10 52.01,10.28 52.17,10.46 52.32,10.63 52.48,10.81 52.63,10.99 52.79,11.16 52.94,11.34 53.10,11.52 53.26,11.69 53.41,11.87 53.57,12.05 53.72,12.22 53.88,12.40 54.03,12.57 54.19,12.75 54.34,12.92 54.50,13.10 54.66,13.28 54.81,13.45 54.97,13.63 55.12,13.80 55.28,13.98 55.43,14.15 55.59,14.33 55.74,14.50 55.90,14.68 56.06,14.85 56.21,15.03 56.37,15.20 56.52,15.38 56.68,15.55 56.83,15.72 56.99,15.90 57.14,16.07 57.30,16.25 57.46,16.42 57.61,16.59 57.77,16.77 57.92,16.94 58.08,17.11 58.23,17.29 58.39,17.46 58.54,17.63 58.70,17.81 58.86,17.98 59.01,18.15 59.17,18.33 59.32,18.50 59.48,18.67 59.63,18.84 59.79,19.02 59.94,19.19 60.26,19.53 60.57,19.88 60.88,20.22 61.19,20.56 61.50,20.91 61.81,21.25 62.12,21.59 62.43,21.93 62.74,22.27 63.06,22.61 63.37,22.95 63.68,23.29 63.99,23.63 64.30,23.97 64.61,24.31 64.92,24.65 65.23,24.98 65.54,25.32 65.86,25.66 66.17,26.00 66.48,26.33 66.79,26.67 67.10,27.00 67.41,27.34 67.72,27.67 68.03,28.01 68.34,28.34 68.66,28.67 68.97,29.01 69.28,29.34 69.59,29.67 69.90,30.00 70.21,30.33 70.52,30.66 70.83,30.99 71.14,31.32 71.46,31.65 71.77,31.98 72.08,32.31 72.39,32.64 72.70,32.96 73.01,33.29 73.32,33.62 73.63,33.95 73.94,34.27 74.26,34.60 74.57,34.92 74.88,35.25 75.19,35.57 75.50,35.89 75.81,36.22 76.12,36.54 76.43,36.86 76.74,37.18 77.06,37.51 77.37,37.83 77.68,38.15 77.99,38.47 78.30,38.79 78.61,39.11 78.92,39.43 79.23,39.74 79.54,40.06 79.86,40.38 80.17,40.70 80.48,41.02 80.79,41.34 81.10,41.65 81.41,41.97 81.72,42.29 82.03,42.60 82.34,42.92 82.66,43.24 82.97,43.55 83.28,43.87 83.59,44.18 83.90,44.50 84.21,44.81 84.52,45.13 84.83,45.44 85.14,45.76 85.46,46.07 85.77,46.39 86.08,46.70 86.39,47.01 86.70,47.32 87.01,47.64 87.32,47.95 87.63,48.26 87.94,48.57 88.26,48.88 88.57,49.19 88.88,49.50 89.19,49.81 89.50,50.12 89.81,50.43 90.12,50.74 90.43,51.05 90.74,51.35 91.06,51.66 91.37,51.97 91.68,52.27 91.99,52.58 92.30,52.89 92.61,53.19 92.92,53.50 93.23,53.80 93.54,54.11 93.86,54.41 94.17,54.71 94.48,55.01 94.79,55.32 95.10,55.62 95.41,55.92 95.72,56.22 96.03,56.52 96.34,56.82 96.66,57.12 96.97,57.42 97.28,57.72 97.59,58.01 97.90,58.31 98.21,58.61 98.52,58.90 98.83,59.20 99.14,59.49 99.46,59.79 99.77,60.08 100.08,60.38 100.39,60.67 100.70,60.96 101.01,61.25 101.32,61.54 101.63,61.83 101.94,62.12 102.26,62.41 102.57,62.70 102.88,62.99 103.19,63.28 103.50,63.57 103.81,63.85 104.12,64.14 104.43,64.42 104.74,64.71 105.06,64.99 105.37,65.27 105.68,65.56 105.99,65.84 106.30,66.12 106.61,66.40 106.92,66.68 107.23,66.96 107.54,67.24 107.86,67.51 108.17,67.79 108.48,68.07 108.79,68.34 109.10,68.62 109.41,68.89 109.72,69.16 110.34,69.71 110.97,70.25 111.59,70.80 112.21,71.34 112.83,71.87 113.46,72.41 114.08,72.94 114.70,73.48 115.32,74.01 115.94,74.54 116.57,75.06 117.19,75.59 117.81,76.11 118.43,76.64 119.06,77.16 119.68,77.68 120.30,78.19 120.92,78.71 121.54,79.22 122.17,79.73 122.79,80.24 123.41,80.75 124.03,81.25 124.66,81.76 125.28,82.26 125.90,82.76 126.52,83.26 127.14,83.75 127.77,84.25 128.39,84.74 129.01,85.23 129.63,85.72 130.26,86.20 130.88,86.69 131.50,87.17 132.12,87.65 132.74,88.13 133.37,88.61 133.99,89.08 134.61,89.56 135.23,90.03 135.86,90.50 136.48,90.96 137.10,91.43 137.72,91.89 138.34,92.35 138.97,92.81 139.59,93.27 140.21,93.72 140.83,94.18 141.46,94.63 142.08,95.08 142.70,95.52 143.32,95.97 143.94,96.41 144.57,96.85 145.19,97.28 145.81,97.72 146.43,98.15 147.06,98.58 147.68,99.01 148.30,99.44 148.92,99.87 149.54,100.29 150.17,100.71 150.79,101.13 151.41,101.55 152.03,101.97 152.66,102.39 153.28,102.80 153.90,103.21 154.52,103.62 155.14,104.03 155.77,104.44 156.39,104.85 157.01,105.26 157.63,105.66 158.26,106.07 158.88,106.47 159.50,106.87 160.12,107.27 160.74,107.68 161.37,108.08 161.99,108.47 162.61,108.87 163.23,109.27 163.86,109.67 164.48,110.06 165.10,110.46 165.72,110.86 166.34,111.25 166.97,111.65 167.59,112.04 168.21,112.44 168.83,112.83 169.46,113.22 170.08,113.62 170.70,114.01 171.32,114.41 171.94,114.80 172.57,115.19 173.19,115.59 173.81,115.99 174.43,116.38 175.06,116.78 175.68,117.18 176.30,117.58 176.92,117.98 177.54,118.38 178.17,118.77 178.79,119.17 179.41,119.57 180.03,119.97 180.66,120.37 181.28,120.77 181.90,121.16 182.52,121.56 183.14,121.96 183.77,122.35 184.39,122.75 185.01,123.14 185.63,123.53 186.26,123.92 186.88,124.31 187.50,124.70 188.12,125.09 188.74,125.48 189.37,125.86 189.99,126.24 190.61,126.62 191.23,127.00 191.86,127.37 192.48,127.75 193.10,128.12 193.72,128.49 194.34,128.86 194.97,129.22 195.59,129.58 196.21,129.94 196.83,130.29 197.46,130.65 198.08,131.00 198.70,131.34 199.32,131.69 199.94,132.03 200.57,132.36 201.19,132.69 201.81,133.02 202.43,133.35 203.06,133.67 203.68,133.99 204.30,134.30 204.92,134.62 205.54,134.93 206.17,135.24 206.79,135.54 207.41,135.85 208.03,136.15 208.66,136.45 209.28,136.75 209.90,137.04 210.52,137.34 211.14,137.63 211.77,137.92 212.39,138.21 213.01,138.50 213.63,138.78 214.26,139.07 214.88,139.35 215.50,139.63 216.12,139.91 216.74,140.19 217.37,140.46 217.99,140.74 218.61,141.01 219.23,141.28 219.86,141.55 220.48,141.82 221.10,142.09 221.72,142.36 222.34,142.62 222.97,142.89 223.59,143.15 224.21,143.41 224.83,143.67 225.46,143.93 226.08,144.19 226.70,144.45 227.32,144.71 227.94,144.96 228.57,145.22 229.19,145.47 229.81,145.73 230.43,145.98 231.06,146.23 231.68,146.49 232.30,146.74 232.92,146.99 233.54,147.24 234.17,147.49 234.79,147.74 235.41,147.99 236.03,148.23 236.66,148.48 237.28,148.72 237.90,148.97 238.52,149.21 239.14,149.45 239.77,149.69 240.39,149.93 241.01,150.16 241.63,150.40 242.26,150.64 242.88,150.87 243.50,151.10 244.12,151.33 244.74,151.57 245.37,151.80 245.99,152.03 246.61,152.26 247.23,152.48 247.86,152.71 248.48,152.94 249.10,153.16 249.72,153.39 250.34,153.61 250.97,153.84 251.59,154.06 252.21,154.28 252.83,154.51 253.46,154.73 254.08,154.95 254.70,155.17 255.32,155.39 255.94,155.61 256.57,155.83 257.19,156.05 257.81,156.27 258.43,156.49 259.06,156.71 259.68,156.93 260.30,157.15 260.92,157.37 261.54,157.59 262.17,157.81 262.79,158.02 263.41,158.24 264.03,158.46 264.66,158.68 265.28,158.90 265.90,159.12 266.52,159.34 267.14,159.56 267.77,159.78 268.39,160.00 269.01,160.23 269.63,160.45 270.26,160.67 270.88,160.90 271.50,161.12 272.12,161.35 272.74,161.57 273.37,161.80 273.99,162.02 274.61,162.24 275.23,162.47 275.86,162.69 276.48,162.91 277.10,163.14 277.72,163.36 278.34,163.58 278.97,163.80 279.59,164.02 280.21,164.24 280.83,164.46 281.46,164.68 282.08,164.90 282.70,165.11 283.32,165.33 283.94,165.54 284.57,165.75 285.19,165.96 285.81,166.17 286.43,166.38 287.06,166.58 287.68,166.79 288.30,166.99 288.92,167.19 289.54,167.39 290.17,167.59 290.79,167.78 291.41,167.97 292.03,168.17 292.66,168.35 293.28,168.54 293.90,168.72 294.52,168.90 295.14,169.08 295.77,169.26 296.39,169.43 297.01,169.60 297.63,169.77 298.26,169.94 298.88,170.11 299.50,170.28 300.12,170.44 300.74,170.61 301.37,170.78 301.99,170.94 302.61,171.10 303.23,171.27 303.86,171.43 304.48,171.59 305.10,171.75 305.72,171.90 306.34,172.06 306.97,172.22 307.59,172.37 308.21,172.53 308.83,172.68 309.46,172.83 310.08,172.98 310.70,173.13 311.32,173.28 311.94,173.42 312.57,173.57 313.19,173.71 313.81,173.86 314.43,174.00 315.06,174.14 315.68,174.28 316.30,174.42 316.92,174.56 317.54,174.69 318.17,174.83 318.79,174.96 319.41,175.09 320.03,175.22 320.66,175.35 321.28,175.48 321.90,175.60 322.52,175.73 323.14,175.85 323.77,175.97 324.39,176.09 325.01,176.21 325.63,176.33 326.26,176.44 326.88,176.56 327.50,176.67" fill="none" stroke="#B35806" stroke-width="1.3" stroke-linejoin="round"/>
<path d="M47.50 224.50v-5M47.50 5.10v5M78.61 224.50v-5M78.61 5.10v5M109.72 224.50v-5M109.72 5.10v5M140.83 224.50v-5M140.83 5.10v5M171.94 224.50v-5M171.94 5.10v5M203.06 224.50v-5M203.06 5.10v5M234.17 224.50v-5M234.17 5.10v5M265.28 224.50v-5M265.28 5.10v5M296.39 224.50v-5M296.39 5.10v5M327.50 224.50v-5M327.50 5.10v5M47.50 224.50h5M327.50 224.50h-5M47.50 202.56h5M327.50 202.56h-5M47.50 180.62h5M327.50 180.62h-5M47.50 158.68h5M327.50 158.68h-5M47.50 136.74h5M327.50 136.74h-5M47.50 114.80h5M327.50 114.80h-5M47.50 92.86h5M327.50 92.86h-5M47.50 70.92h5M327.50 70.92h-5M47.50 48.98h5M327.50 48.98h-5M47.50 27.04h5M327.50 27.04h-5M47.50 5.10h5M327.50 5.10h-5" stroke="#000" stroke-width="1" fill="none"/>
<rect x="47.50" y="5.10" width="280.00" height="219.40" fill="none" stroke="#000" stroke-width="1.2"/>
<text x="286" y="22.60" text-anchor="end">100 Q</text>
<text x="286.8" y="25.60" font-size="11" style="font-size:11px">0</text>
<path d="M300 17.50H313" stroke="#B35806" stroke-width="3"/>
<text x="286" y="36.48" text-anchor="end">46 Q</text>
<text x="286.8" y="39.48" font-size="11" style="font-size:11px">0</text>
<path d="M300 31.38H313" stroke="#E08214" stroke-width="3"/>
<text x="286" y="50.36" text-anchor="end">22 Q</text>
<text x="286.8" y="53.36" font-size="11" style="font-size:11px">0</text>
<path d="M300 45.26H313" stroke="#FDB863" stroke-width="3"/>
<text x="286" y="64.24" text-anchor="end">10 Q</text>
<text x="286.8" y="67.24" font-size="11" style="font-size:11px">0</text>
<path d="M300 59.14H313" stroke="#FEE0B6" stroke-width="3"/>
<text x="286" y="78.12" text-anchor="end">4.6 Q</text>
<text x="286.8" y="81.12" font-size="11" style="font-size:11px">0</text>
<path d="M300 73.02H313" stroke="#D8DAEB" stroke-width="3"/>
<text x="286" y="92.00" text-anchor="end">2.2 Q</text>
<text x="286.8" y="95.00" font-size="11" style="font-size:11px">0</text>
<path d="M300 86.90H313" stroke="#B2ABD2" stroke-width="3"/>
<text x="286" y="105.88" text-anchor="end">1.0 Q</text>
<text x="286.8" y="108.88" font-size="11" style="font-size:11px">0</text>
<path d="M300 100.78H313" stroke="#8073AC" stroke-width="3"/>
<text x="40" y="229.40" text-anchor="end">0</text>
<text x="40" y="207.46" text-anchor="end">10</text>
<text x="40" y="185.52" text-anchor="end">20</text>
<text x="40" y="163.58" text-anchor="end">30</text>
<text x="40" y="141.64" text-anchor="end">40</text>
<text x="40" y="119.70" text-anchor="end">50</text>
<text x="40" y="97.76" text-anchor="end">60</text>
<text x="40" y="75.82" text-anchor="end">70</text>
<text x="40" y="53.88" text-anchor="end">80</text>
<text x="40" y="31.94" text-anchor="end">90</text>
<text x="40" y="10.00" text-anchor="end">100</text>
<text x="47.50" y="243.5" text-anchor="middle">0.0</text>
<text x="78.61" y="243.5" text-anchor="middle">0.5</text>
<text x="109.72" y="243.5" text-anchor="middle">1.0</text>
<text x="140.83" y="243.5" text-anchor="middle">1.5</text>
<text x="171.94" y="243.5" text-anchor="middle">2.0</text>
<text x="203.06" y="243.5" text-anchor="middle">2.5</text>
<text x="234.17" y="243.5" text-anchor="middle">3.0</text>
<text x="265.28" y="243.5" text-anchor="middle">3.5</text>
<text x="296.39" y="243.5" text-anchor="middle">4.0</text>
<text x="327.50" y="243.5" text-anchor="middle">4.5</text>
<text x="188.3" y="263.8" text-anchor="middle">Eurybates family age [Gy]</text>
<text transform="translate(10.6,115.2) rotate(-90)" text-anchor="middle" style="font-size:13.25px">Queta survival probability [%]</text>
<g><rect x="409.50" y="5.20" width="6.18" height="31.66" fill="#3e95b8"/><rect x="414.48" y="5.20" width="6.18" height="31.66" fill="#49a2b2"/><rect x="419.46" y="5.20" width="6.18" height="31.66" fill="#55afad"/><rect x="424.43" y="5.20" width="6.18" height="31.66" fill="#60bba8"/><rect x="429.41" y="5.20" width="6.18" height="31.66" fill="#6cc4a5"/><rect x="434.39" y="5.20" width="6.18" height="31.66" fill="#7acaa5"/><rect x="439.37" y="5.20" width="6.18" height="31.66" fill="#88cfa5"/><rect x="444.34" y="5.20" width="6.18" height="31.66" fill="#95d4a4"/><rect x="449.32" y="5.20" width="6.18" height="31.66" fill="#a2d9a4"/><rect x="454.30" y="5.20" width="6.18" height="31.66" fill="#aedea3"/><rect x="459.28" y="5.20" width="6.18" height="31.66" fill="#b8e2a1"/><rect x="464.26" y="5.20" width="6.18" height="31.66" fill="#c1e69f"/><rect x="469.23" y="5.20" width="6.18" height="31.66" fill="#cbea9e"/><rect x="474.21" y="5.20" width="6.18" height="31.66" fill="#d4ee9c"/><rect x="479.19" y="5.20" width="6.18" height="31.66" fill="#ddf19a"/><rect x="484.17" y="5.20" width="6.18" height="31.66" fill="#e5f598"/><rect x="489.14" y="5.20" width="6.18" height="31.66" fill="#e9f396"/><rect x="494.12" y="5.20" width="6.18" height="31.66" fill="#ecf095"/><rect x="499.10" y="5.20" width="6.18" height="31.66" fill="#efed93"/><rect x="504.08" y="5.20" width="6.18" height="31.66" fill="#f2ea92"/><rect x="509.06" y="5.20" width="6.18" height="31.66" fill="#f5e890"/><rect x="514.03" y="5.20" width="6.18" height="31.66" fill="#f8e58e"/><rect x="519.01" y="5.20" width="6.18" height="31.66" fill="#fbe38d"/><rect x="523.99" y="5.20" width="6.18" height="31.66" fill="#fee08b"/><rect x="528.97" y="5.20" width="6.18" height="31.66" fill="#fedb87"/><rect x="533.94" y="5.20" width="6.18" height="31.66" fill="#fed683"/><rect x="538.92" y="5.20" width="6.18" height="31.66" fill="#fed17f"/><rect x="543.90" y="5.20" width="6.18" height="31.66" fill="#fecd7b"/><rect x="548.88" y="5.20" width="6.18" height="31.66" fill="#fec978"/><rect x="553.86" y="5.20" width="6.18" height="31.66" fill="#fdc574"/><rect x="558.83" y="5.20" width="6.18" height="31.66" fill="#fdc171"/><rect x="563.81" y="5.20" width="6.18" height="31.66" fill="#fdbd6e"/><rect x="568.79" y="5.20" width="6.18" height="31.66" fill="#fdba6b"/><rect x="573.77" y="5.20" width="6.18" height="31.66" fill="#fdb668"/><rect x="578.74" y="5.20" width="6.18" height="31.66" fill="#fdb365"/><rect x="583.72" y="5.20" width="6.18" height="31.66" fill="#fdaf62"/><rect x="588.70" y="5.20" width="6.18" height="31.66" fill="#fdab60"/><rect x="593.68" y="5.20" width="6.18" height="31.66" fill="#fca65d"/><rect x="598.66" y="5.20" width="6.18" height="31.66" fill="#fba25b"/><rect x="603.63" y="5.20" width="6.18" height="31.66" fill="#fb9e5a"/><rect x="608.61" y="5.20" width="6.18" height="31.66" fill="#fa9b58"/><rect x="613.59" y="5.20" width="6.18" height="31.66" fill="#fa9757"/><rect x="618.57" y="5.20" width="6.18" height="31.66" fill="#f99455"/><rect x="623.54" y="5.20" width="6.18" height="31.66" fill="#f99254"/><rect x="628.52" y="5.20" width="4.98" height="31.66" fill="#f98f53"/><rect x="409.50" y="35.66" width="6.18" height="31.66" fill="#48a0b3"/><rect x="414.48" y="35.66" width="6.18" height="31.66" fill="#5cb7a9"/><rect x="419.46" y="35.66" width="6.18" height="31.66" fill="#73c7a5"/><rect x="424.43" y="35.66" width="6.18" height="31.66" fill="#8bd1a4"/><rect x="429.41" y="35.66" width="6.18" height="31.66" fill="#a2d9a4"/><rect x="434.39" y="35.66" width="6.18" height="31.66" fill="#b5e1a2"/><rect x="439.37" y="35.66" width="6.18" height="31.66" fill="#c6e89e"/><rect x="444.34" y="35.66" width="6.18" height="31.66" fill="#d6ef9b"/><rect x="449.32" y="35.66" width="6.18" height="31.66" fill="#e6f598"/><rect x="454.30" y="35.66" width="6.18" height="31.66" fill="#ecf095"/><rect x="459.28" y="35.66" width="6.18" height="31.66" fill="#f1eb92"/><rect x="464.26" y="35.66" width="6.18" height="31.66" fill="#f6e78f"/><rect x="469.23" y="35.66" width="6.18" height="31.66" fill="#fbe38d"/><rect x="474.21" y="35.66" width="6.18" height="31.66" fill="#fedd88"/><rect x="479.19" y="35.66" width="6.18" height="31.66" fill="#fed481"/><rect x="484.17" y="35.66" width="6.18" height="31.66" fill="#fecc7a"/><rect x="489.14" y="35.66" width="6.18" height="31.66" fill="#fdc473"/><rect x="494.12" y="35.66" width="6.18" height="31.66" fill="#fdbd6d"/><rect x="499.10" y="35.66" width="6.18" height="31.66" fill="#fdb668"/><rect x="504.08" y="35.66" width="6.18" height="31.66" fill="#fdaf62"/><rect x="509.06" y="35.66" width="6.18" height="31.66" fill="#fca85e"/><rect x="514.03" y="35.66" width="6.18" height="31.66" fill="#fba05b"/><rect x="519.01" y="35.66" width="6.18" height="31.66" fill="#fa9957"/><rect x="523.99" y="35.66" width="6.18" height="31.66" fill="#f99354"/><rect x="528.97" y="35.66" width="6.18" height="31.66" fill="#f88d52"/><rect x="533.94" y="35.66" width="6.18" height="31.66" fill="#f8874f"/><rect x="538.92" y="35.66" width="6.18" height="31.66" fill="#f7814c"/><rect x="543.90" y="35.66" width="6.18" height="31.66" fill="#f67c4a"/><rect x="548.88" y="35.66" width="6.18" height="31.66" fill="#f57748"/><rect x="553.86" y="35.66" width="6.18" height="31.66" fill="#f57346"/><rect x="558.83" y="35.66" width="6.18" height="31.66" fill="#f46f44"/><rect x="563.81" y="35.66" width="6.18" height="31.66" fill="#f36b43"/><rect x="568.79" y="35.66" width="6.18" height="31.66" fill="#f16944"/><rect x="573.77" y="35.66" width="6.18" height="31.66" fill="#ef6645"/><rect x="578.74" y="35.66" width="6.18" height="31.66" fill="#ee6445"/><rect x="583.72" y="35.66" width="6.18" height="31.66" fill="#ec6146"/><rect x="588.70" y="35.66" width="6.18" height="31.66" fill="#eb5f47"/><rect x="593.68" y="35.66" width="6.18" height="31.66" fill="#ea5d47"/><rect x="598.66" y="35.66" width="6.18" height="31.66" fill="#e85b48"/><rect x="603.63" y="35.66" width="6.18" height="31.66" fill="#e75a48"/><rect x="608.61" y="35.66" width="6.18" height="31.66" fill="#e65848"/><rect x="613.59" y="35.66" width="6.18" height="31.66" fill="#e55649"/><rect x="618.57" y="35.66" width="6.18" height="31.66" fill="#e45549"/><rect x="623.54" y="35.66" width="6.18" height="31.66" fill="#e3544a"/><rect x="628.52" y="35.66" width="4.98" height="31.66" fill="#e2524a"/><rect x="409.50" y="66.11" width="6.18" height="31.66" fill="#52acae"/><rect x="414.48" y="66.11" width="6.18" height="31.66" fill="#72c7a5"/><rect x="419.46" y="66.11" width="6.18" height="31.66" fill="#95d4a4"/><rect x="424.43" y="66.11" width="6.18" height="31.66" fill="#b3e0a2"/><rect x="429.41" y="66.11" width="6.18" height="31.66" fill="#cbea9d"/><rect x="434.39" y="66.11" width="6.18" height="31.66" fill="#e1f399"/><rect x="439.37" y="66.11" width="6.18" height="31.66" fill="#ecf095"/><rect x="444.34" y="66.11" width="6.18" height="31.66" fill="#f4e991"/><rect x="449.32" y="66.11" width="6.18" height="31.66" fill="#fae38d"/><rect x="454.30" y="66.11" width="6.18" height="31.66" fill="#fedb87"/><rect x="459.28" y="66.11" width="6.18" height="31.66" fill="#fecf7d"/><rect x="464.26" y="66.11" width="6.18" height="31.66" fill="#fdc574"/><rect x="469.23" y="66.11" width="6.18" height="31.66" fill="#fdbb6c"/><rect x="474.21" y="66.11" width="6.18" height="31.66" fill="#fdb264"/><rect x="479.19" y="66.11" width="6.18" height="31.66" fill="#fca85e"/><rect x="484.17" y="66.11" width="6.18" height="31.66" fill="#fb9f5a"/><rect x="489.14" y="66.11" width="6.18" height="31.66" fill="#fa9656"/><rect x="494.12" y="66.11" width="6.18" height="31.66" fill="#f98e52"/><rect x="499.10" y="66.11" width="6.18" height="31.66" fill="#f7864f"/><rect x="504.08" y="66.11" width="6.18" height="31.66" fill="#f77f4b"/><rect x="509.06" y="66.11" width="6.18" height="31.66" fill="#f67949"/><rect x="514.03" y="66.11" width="6.18" height="31.66" fill="#f57346"/><rect x="519.01" y="66.11" width="6.18" height="31.66" fill="#f46e43"/><rect x="523.99" y="66.11" width="6.18" height="31.66" fill="#f26a44"/><rect x="528.97" y="66.11" width="6.18" height="31.66" fill="#f06745"/><rect x="533.94" y="66.11" width="6.18" height="31.66" fill="#ee6445"/><rect x="538.92" y="66.11" width="6.18" height="31.66" fill="#ec6146"/><rect x="543.90" y="66.11" width="6.18" height="31.66" fill="#ea5e47"/><rect x="548.88" y="66.11" width="6.18" height="31.66" fill="#e95c47"/><rect x="553.86" y="66.11" width="6.18" height="31.66" fill="#e75a48"/><rect x="558.83" y="66.11" width="6.18" height="31.66" fill="#e65848"/><rect x="563.81" y="66.11" width="6.18" height="31.66" fill="#e55649"/><rect x="568.79" y="66.11" width="6.18" height="31.66" fill="#e35449"/><rect x="573.77" y="66.11" width="6.18" height="31.66" fill="#e2524a"/><rect x="578.74" y="66.11" width="6.18" height="31.66" fill="#e1514a"/><rect x="583.72" y="66.11" width="6.18" height="31.66" fill="#e04f4b"/><rect x="588.70" y="66.11" width="6.18" height="31.66" fill="#e04e4b"/><rect x="593.68" y="66.11" width="6.18" height="31.66" fill="#df4d4b"/><rect x="598.66" y="66.11" width="6.18" height="31.66" fill="#de4c4b"/><rect x="603.63" y="66.11" width="6.18" height="31.66" fill="#dd4b4c"/><rect x="608.61" y="66.11" width="6.18" height="31.66" fill="#dd4a4c"/><rect x="613.59" y="66.11" width="6.18" height="31.66" fill="#dc494c"/><rect x="618.57" y="66.11" width="6.18" height="31.66" fill="#dc484c"/><rect x="623.54" y="66.11" width="6.18" height="31.66" fill="#db474d"/><rect x="628.52" y="66.11" width="4.98" height="31.66" fill="#db474d"/><rect x="409.50" y="96.57" width="6.18" height="31.66" fill="#6fc6a5"/><rect x="414.48" y="96.57" width="6.18" height="31.66" fill="#abdda4"/><rect x="419.46" y="96.57" width="6.18" height="31.66" fill="#d7ef9b"/><rect x="424.43" y="96.57" width="6.18" height="31.66" fill="#efed93"/><rect x="429.41" y="96.57" width="6.18" height="31.66" fill="#fce28c"/><rect x="434.39" y="96.57" width="6.18" height="31.66" fill="#fece7c"/><rect x="439.37" y="96.57" width="6.18" height="31.66" fill="#fdba6b"/><rect x="444.34" y="96.57" width="6.18" height="31.66" fill="#fca85e"/><rect x="449.32" y="96.57" width="6.18" height="31.66" fill="#fa9656"/><rect x="454.30" y="96.57" width="6.18" height="31.66" fill="#f7864f"/><rect x="459.28" y="96.57" width="6.18" height="31.66" fill="#f67948"/><rect x="464.26" y="96.57" width="6.18" height="31.66" fill="#f46d43"/><rect x="469.23" y="96.57" width="6.18" height="31.66" fill="#f06645"/><rect x="474.21" y="96.57" width="6.18" height="31.66" fill="#ec6046"/><rect x="479.19" y="96.57" width="6.18" height="31.66" fill="#e85b48"/><rect x="484.17" y="96.57" width="6.18" height="31.66" fill="#e55749"/><rect x="489.14" y="96.57" width="6.18" height="31.66" fill="#e3534a"/><rect x="494.12" y="96.57" width="6.18" height="31.66" fill="#e1504a"/><rect x="499.10" y="96.57" width="6.18" height="31.66" fill="#df4d4b"/><rect x="504.08" y="96.57" width="6.18" height="31.66" fill="#de4b4c"/><rect x="509.06" y="96.57" width="6.18" height="31.66" fill="#dc494c"/><rect x="514.03" y="96.57" width="6.18" height="31.66" fill="#db484d"/><rect x="519.01" y="96.57" width="6.18" height="31.66" fill="#da464d"/><rect x="523.99" y="96.57" width="6.18" height="31.66" fill="#da454d"/><rect x="528.97" y="96.57" width="6.18" height="31.66" fill="#d9444d"/><rect x="533.94" y="96.57" width="6.18" height="31.66" fill="#d8434e"/><rect x="538.92" y="96.57" width="6.18" height="31.66" fill="#d8424e"/><rect x="543.90" y="96.57" width="6.18" height="31.66" fill="#d7424e"/><rect x="548.88" y="96.57" width="6.18" height="31.66" fill="#d7414e"/><rect x="553.86" y="96.57" width="6.18" height="31.66" fill="#d7414e"/><rect x="558.83" y="96.57" width="6.18" height="31.66" fill="#d6404e"/><rect x="563.81" y="96.57" width="6.18" height="31.66" fill="#d6404f"/><rect x="568.79" y="96.57" width="6.18" height="31.66" fill="#d6404f"/><rect x="573.77" y="96.57" width="6.18" height="31.66" fill="#d63f4f"/><rect x="578.74" y="96.57" width="6.18" height="31.66" fill="#d63f4f"/><rect x="583.72" y="96.57" width="6.18" height="31.66" fill="#d63f4f"/><rect x="588.70" y="96.57" width="6.18" height="31.66" fill="#d63f4f"/><rect x="593.68" y="96.57" width="6.18" height="31.66" fill="#d53f4f"/><rect x="598.66" y="96.57" width="6.18" height="31.66" fill="#d53f4f"/><rect x="603.63" y="96.57" width="6.18" height="31.66" fill="#d53f4f"/><rect x="608.61" y="96.57" width="6.18" height="31.66" fill="#d53e4f"/><rect x="613.59" y="96.57" width="6.18" height="31.66" fill="#d53e4f"/><rect x="618.57" y="96.57" width="6.18" height="31.66" fill="#d53e4f"/><rect x="623.54" y="96.57" width="6.18" height="31.66" fill="#d53e4f"/><rect x="628.52" y="96.57" width="4.98" height="31.66" fill="#d53e4f"/><rect x="409.50" y="127.03" width="6.18" height="31.66" fill="#92d3a4"/><rect x="414.48" y="127.03" width="6.18" height="31.66" fill="#d4ee9c"/><rect x="419.46" y="127.03" width="6.18" height="31.66" fill="#f2ea91"/><rect x="424.43" y="127.03" width="6.18" height="31.66" fill="#fed783"/><rect x="429.41" y="127.03" width="6.18" height="31.66" fill="#fdbc6d"/><rect x="434.39" y="127.03" width="6.18" height="31.66" fill="#fca45c"/><rect x="439.37" y="127.03" width="6.18" height="31.66" fill="#f88d52"/><rect x="444.34" y="127.03" width="6.18" height="31.66" fill="#f67b49"/><rect x="449.32" y="127.03" width="6.18" height="31.66" fill="#f36c43"/><rect x="454.30" y="127.03" width="6.18" height="31.66" fill="#ee6345"/><rect x="459.28" y="127.03" width="6.18" height="31.66" fill="#e95c47"/><rect x="464.26" y="127.03" width="6.18" height="31.66" fill="#e55649"/><rect x="469.23" y="127.03" width="6.18" height="31.66" fill="#e2524a"/><rect x="474.21" y="127.03" width="6.18" height="31.66" fill="#e04e4b"/><rect x="479.19" y="127.03" width="6.18" height="31.66" fill="#de4b4c"/><rect x="484.17" y="127.03" width="6.18" height="31.66" fill="#dc484c"/><rect x="489.14" y="127.03" width="6.18" height="31.66" fill="#db464d"/><rect x="494.12" y="127.03" width="6.18" height="31.66" fill="#da454d"/><rect x="499.10" y="127.03" width="6.18" height="31.66" fill="#d9444e"/><rect x="504.08" y="127.03" width="6.18" height="31.66" fill="#d8424e"/><rect x="509.06" y="127.03" width="6.18" height="31.66" fill="#d7424e"/><rect x="514.03" y="127.03" width="6.18" height="31.66" fill="#d7414e"/><rect x="519.01" y="127.03" width="6.18" height="31.66" fill="#d7404e"/><rect x="523.99" y="127.03" width="6.18" height="31.66" fill="#d6404f"/><rect x="528.97" y="127.03" width="6.18" height="31.66" fill="#d6404f"/><rect x="533.94" y="127.03" width="6.18" height="31.66" fill="#d63f4f"/><rect x="538.92" y="127.03" width="6.18" height="31.66" fill="#d63f4f"/><rect x="543.90" y="127.03" width="6.18" height="31.66" fill="#d63f4f"/><rect x="548.88" y="127.03" width="6.18" height="31.66" fill="#d53f4f"/><rect x="553.86" y="127.03" width="6.18" height="31.66" fill="#d53f4f"/><rect x="558.83" y="127.03" width="6.18" height="31.66" fill="#d53e4f"/><rect x="563.81" y="127.03" width="6.18" height="31.66" fill="#d53e4f"/><rect x="568.79" y="127.03" width="6.18" height="31.66" fill="#d53e4f"/><rect x="573.77" y="127.03" width="6.18" height="31.66" fill="#d53e4f"/><rect x="578.74" y="127.03" width="6.18" height="31.66" fill="#d53e4f"/><rect x="583.72" y="127.03" width="6.18" height="31.66" fill="#d53e4f"/><rect x="588.70" y="127.03" width="6.18" height="31.66" fill="#d53e4f"/><rect x="593.68" y="127.03" width="6.18" height="31.66" fill="#d53e4f"/><rect x="598.66" y="127.03" width="6.18" height="31.66" fill="#d53e4f"/><rect x="603.63" y="127.03" width="6.18" height="31.66" fill="#d53e4f"/><rect x="608.61" y="127.03" width="6.18" height="31.66" fill="#d53e4f"/><rect x="613.59" y="127.03" width="6.18" height="31.66" fill="#d53e4f"/><rect x="618.57" y="127.03" width="6.18" height="31.66" fill="#d53e4f"/><rect x="623.54" y="127.03" width="6.18" height="31.66" fill="#d53e4f"/><rect x="628.52" y="127.03" width="4.98" height="31.66" fill="#d53e4f"/><rect x="409.50" y="157.49" width="6.18" height="31.66" fill="#ddf19a"/><rect x="414.48" y="157.49" width="6.18" height="31.66" fill="#fecf7d"/><rect x="419.46" y="157.49" width="6.18" height="31.66" fill="#fb9d59"/><rect x="424.43" y="157.49" width="6.18" height="31.66" fill="#f57647"/><rect x="429.41" y="157.49" width="6.18" height="31.66" fill="#ec6146"/><rect x="434.39" y="157.49" width="6.18" height="31.66" fill="#e45549"/><rect x="439.37" y="157.49" width="6.18" height="31.66" fill="#df4d4b"/><rect x="444.34" y="157.49" width="6.18" height="31.66" fill="#dc484c"/><rect x="449.32" y="157.49" width="6.18" height="31.66" fill="#d9454d"/><rect x="454.30" y="157.49" width="6.18" height="31.66" fill="#d8424e"/><rect x="459.28" y="157.49" width="6.18" height="31.66" fill="#d7414e"/><rect x="464.26" y="157.49" width="6.18" height="31.66" fill="#d6404f"/><rect x="469.23" y="157.49" width="6.18" height="31.66" fill="#d63f4f"/><rect x="474.21" y="157.49" width="6.18" height="31.66" fill="#d63f4f"/><rect x="479.19" y="157.49" width="6.18" height="31.66" fill="#d53f4f"/><rect x="484.17" y="157.49" width="6.18" height="31.66" fill="#d53e4f"/><rect x="489.14" y="157.49" width="6.18" height="31.66" fill="#d53e4f"/><rect x="494.12" y="157.49" width="6.18" height="31.66" fill="#d53e4f"/><rect x="499.10" y="157.49" width="6.18" height="31.66" fill="#d53e4f"/><rect x="504.08" y="157.49" width="6.18" height="31.66" fill="#d53e4f"/><rect x="509.06" y="157.49" width="6.18" height="31.66" fill="#d53e4f"/><rect x="514.03" y="157.49" width="6.18" height="31.66" fill="#d53e4f"/><rect x="519.01" y="157.49" width="6.18" height="31.66" fill="#d53e4f"/><rect x="523.99" y="157.49" width="6.18" height="31.66" fill="#d53e4f"/><rect x="528.97" y="157.49" width="6.18" height="31.66" fill="#d53e4f"/><rect x="533.94" y="157.49" width="6.18" height="31.66" fill="#d53e4f"/><rect x="538.92" y="157.49" width="6.18" height="31.66" fill="#d53e4f"/><rect x="543.90" y="157.49" width="6.18" height="31.66" fill="#d53e4f"/><rect x="548.88" y="157.49" width="6.18" height="31.66" fill="#d53e4f"/><rect x="553.86" y="157.49" width="6.18" height="31.66" fill="#d53e4f"/><rect x="558.83" y="157.49" width="6.18" height="31.66" fill="#d53e4f"/><rect x="563.81" y="157.49" width="6.18" height="31.66" fill="#d53e4f"/><rect x="568.79" y="157.49" width="6.18" height="31.66" fill="#d53e4f"/><rect x="573.77" y="157.49" width="6.18" height="31.66" fill="#d53e4f"/><rect x="578.74" y="157.49" width="6.18" height="31.66" fill="#d53e4f"/><rect x="583.72" y="157.49" width="6.18" height="31.66" fill="#d53e4f"/><rect x="588.70" y="157.49" width="6.18" height="31.66" fill="#d53e4f"/><rect x="593.68" y="157.49" width="6.18" height="31.66" fill="#d53e4f"/><rect x="598.66" y="157.49" width="6.18" height="31.66" fill="#d53e4f"/><rect x="603.63" y="157.49" width="6.18" height="31.66" fill="#d53e4f"/><rect x="608.61" y="157.49" width="6.18" height="31.66" fill="#d53e4f"/><rect x="613.59" y="157.49" width="6.18" height="31.66" fill="#d53e4f"/><rect x="618.57" y="157.49" width="6.18" height="31.66" fill="#d53e4f"/><rect x="623.54" y="157.49" width="6.18" height="31.66" fill="#d53e4f"/><rect x="628.52" y="157.49" width="4.98" height="31.66" fill="#d53e4f"/><rect x="409.50" y="187.94" width="6.18" height="30.91" fill="#feda86"/><rect x="414.48" y="187.94" width="6.18" height="30.91" fill="#fca55d"/><rect x="419.46" y="187.94" width="6.18" height="30.91" fill="#f46d43"/><rect x="424.43" y="187.94" width="6.18" height="30.91" fill="#e65749"/><rect x="429.41" y="187.94" width="6.18" height="30.91" fill="#de4c4c"/><rect x="434.39" y="187.94" width="6.18" height="30.91" fill="#da454d"/><rect x="439.37" y="187.94" width="6.18" height="30.91" fill="#d8424e"/><rect x="444.34" y="187.94" width="6.18" height="30.91" fill="#d6404e"/><rect x="449.32" y="187.94" width="6.18" height="30.91" fill="#d63f4f"/><rect x="454.30" y="187.94" width="6.18" height="30.91" fill="#d53f4f"/><rect x="459.28" y="187.94" width="6.18" height="30.91" fill="#d53e4f"/><rect x="464.26" y="187.94" width="6.18" height="30.91" fill="#d53e4f"/><rect x="469.23" y="187.94" width="6.18" height="30.91" fill="#d53e4f"/><rect x="474.21" y="187.94" width="6.18" height="30.91" fill="#d53e4f"/><rect x="479.19" y="187.94" width="6.18" height="30.91" fill="#d53e4f"/><rect x="484.17" y="187.94" width="6.18" height="30.91" fill="#d53e4f"/><rect x="489.14" y="187.94" width="6.18" height="30.91" fill="#d53e4f"/><rect x="494.12" y="187.94" width="6.18" height="30.91" fill="#d53e4f"/><rect x="499.10" y="187.94" width="6.18" height="30.91" fill="#d53e4f"/><rect x="504.08" y="187.94" width="6.18" height="30.91" fill="#d53e4f"/><rect x="509.06" y="187.94" width="6.18" height="30.91" fill="#d53e4f"/><rect x="514.03" y="187.94" width="6.18" height="30.91" fill="#d53e4f"/><rect x="519.01" y="187.94" width="6.18" height="30.91" fill="#d53e4f"/><rect x="523.99" y="187.94" width="6.18" height="30.91" fill="#d53e4f"/><rect x="528.97" y="187.94" width="6.18" height="30.91" fill="#d53e4f"/><rect x="533.94" y="187.94" width="6.18" height="30.91" fill="#d53e4f"/><rect x="538.92" y="187.94" width="6.18" height="30.91" fill="#d53e4f"/><rect x="543.90" y="187.94" width="6.18" height="30.91" fill="#d53e4f"/><rect x="548.88" y="187.94" width="6.18" height="30.91" fill="#d53e4f"/><rect x="553.86" y="187.94" width="6.18" height="30.91" fill="#d53e4f"/><rect x="558.83" y="187.94" width="6.18" height="30.91" fill="#d53e4f"/><rect x="563.81" y="187.94" width="6.18" height="30.91" fill="#d53e4f"/><rect x="568.79" y="187.94" width="6.18" height="30.91" fill="#d53e4f"/><rect x="573.77" y="187.94" width="6.18" height="30.91" fill="#d53e4f"/><rect x="578.74" y="187.94" width="6.18" height="30.91" fill="#d53e4f"/><rect x="583.72" y="187.94" width="6.18" height="30.91" fill="#d53e4f"/><rect x="588.70" y="187.94" width="6.18" height="30.91" fill="#d53e4f"/><rect x="593.68" y="187.94" width="6.18" height="30.91" fill="#d53e4f"/><rect x="598.66" y="187.94" width="6.18" height="30.91" fill="#d53e4f"/><rect x="603.63" y="187.94" width="6.18" height="30.91" fill="#d53e4f"/><rect x="608.61" y="187.94" width="6.18" height="30.91" fill="#d53e4f"/><rect x="613.59" y="187.94" width="6.18" height="30.91" fill="#d53e4f"/><rect x="618.57" y="187.94" width="6.18" height="30.91" fill="#d53e4f"/><rect x="623.54" y="187.94" width="6.18" height="30.91" fill="#d53e4f"/><rect x="628.52" y="187.94" width="4.98" height="30.91" fill="#d53e4f"/></g>
<polyline points="414.43,219.00 416.37,182.43 424.33,148.22 430.56,112.20 448.23,75.63 465.15,41.42 509.06,5.40" fill="none" stroke="#000" stroke-width="1.4"/>
<polyline points="427.37,219.00 435.19,182.43 462.21,148.22 480.53,112.20 547.48,75.63 594.37,41.42 633.50,32.54" fill="none" stroke="#000" stroke-width="1.4"/>
<text transform="translate(444.5,67.3) rotate(-67)" text-anchor="middle" dy="4.5">50%</text>
<text transform="translate(521.7,82) rotate(-25)" text-anchor="middle" dy="4.5">10%</text>
<path d="M409.50 219.00v5M434.39 219.00v5M459.28 219.00v5M484.17 219.00v5M509.06 219.00v5M533.94 219.00v5M558.83 219.00v5M583.72 219.00v5M608.61 219.00v5M633.50 219.00v5M409.50 219.00h-5.5M409.50 112.20h-5.5M409.50 5.40h-5.5M409.50 186.85h-2.8M409.50 168.04h-2.8M409.50 154.70h-2.8M409.50 144.35h-2.8M409.50 135.89h-2.8M409.50 128.74h-2.8M409.50 122.55h-2.8M409.50 117.09h-2.8M409.50 80.05h-2.8M409.50 61.24h-2.8M409.50 47.90h-2.8M409.50 37.55h-2.8M409.50 29.09h-2.8M409.50 21.94h-2.8M409.50 15.75h-2.8M409.50 10.29h-2.8" stroke="#000" stroke-width="1" fill="none"/>
<rect x="409.50" y="5.40" width="224.00" height="213.60" fill="none" stroke="#000" stroke-width="1.2"/>
<text x="397" y="223.90" text-anchor="end">1</text>
<text x="397" y="117.10" text-anchor="end">10</text>
<text x="397" y="10.30" text-anchor="end">100</text>
<text x="409.50" y="242.5" text-anchor="middle">0.0</text>
<text x="434.39" y="242.5" text-anchor="middle">0.5</text>
<text x="459.28" y="242.5" text-anchor="middle">1.0</text>
<text x="484.17" y="242.5" text-anchor="middle">1.5</text>
<text x="509.06" y="242.5" text-anchor="middle">2.0</text>
<text x="533.94" y="242.5" text-anchor="middle">2.5</text>
<text x="558.83" y="242.5" text-anchor="middle">3.0</text>
<text x="583.72" y="242.5" text-anchor="middle">3.5</text>
<text x="608.61" y="242.5" text-anchor="middle">4.0</text>
<text x="633.50" y="242.5" text-anchor="middle">4.5</text>
<text x="522.5" y="263.8" text-anchor="middle">Eurybates family age [Gy]</text>
<text transform="translate(367.2,112.2) rotate(-90)" text-anchor="middle">strength, f, where Q<tspan style="font-size:10px" dy="-5">*</tspan><tspan style="font-size:10px" dy="8">D</tspan><tspan dy="-3"> = f Q</tspan><tspan style="font-size:10.5px" dy="3">0</tspan></text>
<defs><linearGradient id="cb" x1="0" y1="1" x2="0" y2="0"><stop offset="0.0000" stop-color="#D53E4F"/><stop offset="0.1429" stop-color="#F46D43"/><stop offset="0.2857" stop-color="#FDAE61"/><stop offset="0.4286" stop-color="#FEE08B"/><stop offset="0.5714" stop-color="#E6F598"/><stop offset="0.7143" stop-color="#ABDDA4"/><stop offset="0.8571" stop-color="#66C2A5"/><stop offset="1.0000" stop-color="#3288BD"/></linearGradient></defs>
<rect x="639.50" y="5.40" width="11.00" height="213.60" fill="url(#cb)"/>
<path d="M639.50 219.00H650.50M639.50 197.64H650.50M639.50 176.28H650.50M639.50 154.92H650.50M639.50 133.56H650.50M639.50 112.20H650.50M639.50 90.84H650.50M639.50 69.48H650.50M639.50 48.12H650.50M639.50 26.76H650.50M639.50 5.40H650.50" stroke="#000" stroke-width="1" fill="none"/>
<rect x="639.50" y="5.40" width="11.00" height="213.60" fill="none" stroke="#000" stroke-width="1.2"/>
<text x="661.7" y="223.60">0</text>
<text x="661.7" y="202.24">10</text>
<text x="661.7" y="180.88">20</text>
<text x="661.7" y="159.52">30</text>
<text x="661.7" y="138.16">40</text>
<text x="661.7" y="116.80">50</text>
<text x="661.7" y="95.44">60</text>
<text x="661.7" y="74.08">70</text>
<text x="661.7" y="52.72">80</text>
<text x="661.7" y="31.36">90</text>
<text x="661.7" y="10.00">100</text>
<text transform="translate(696,111.8) rotate(-90)" text-anchor="middle" style="font-size:13.25px">Queta survival probability [%]</text>
</svg></body></html>
